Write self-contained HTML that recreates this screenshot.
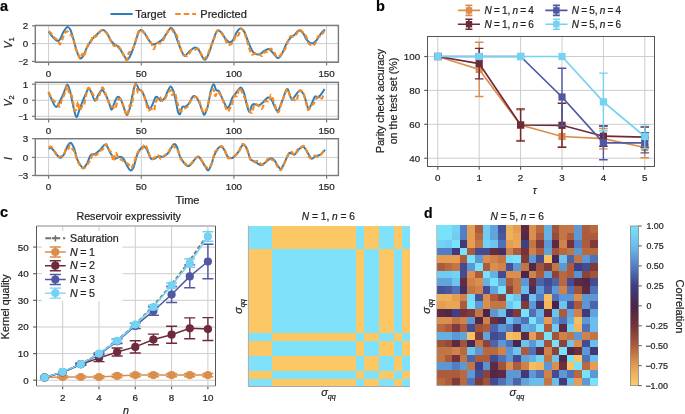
<!DOCTYPE html>
<html><head><meta charset="utf-8"><style>
html,body{margin:0;padding:0;background:#fff;}
body{width:685px;height:414px;overflow:hidden;}
svg text{stroke:#231f20;stroke-width:0.22px;}
svg{display:block;will-change:transform;font-family:"Liberation Sans", sans-serif;}
</style></head><body>
<svg width="685" height="414" viewBox="0 0 685 414">
<rect width="685" height="414" fill="#fff"/>
<text x="0" y="11" font-size="14.5" font-weight="bold" fill="#000">a</text>
<line x1="110.5" y1="14" x2="132.7" y2="14" stroke="#2f7ebc" stroke-width="2"/>
<text x="135.3" y="17.6" font-size="11" text-anchor="start" font-weight="normal" font-style="normal" fill="#231f20" >Target</text>
<line x1="175.2" y1="14" x2="196" y2="14" stroke="#f58a1f" stroke-width="2.2" stroke-dasharray="5.5,3"/>
<text x="200.3" y="17.6" font-size="11" text-anchor="start" font-weight="normal" font-style="normal" fill="#231f20" >Predicted</text>
<line x1="48.6" y1="25.4" x2="48.6" y2="62.3" stroke="#cdcdcd" stroke-width="1"/>
<line x1="141.3" y1="25.4" x2="141.3" y2="62.3" stroke="#cdcdcd" stroke-width="1"/>
<line x1="233.9" y1="25.4" x2="233.9" y2="62.3" stroke="#cdcdcd" stroke-width="1"/>
<line x1="326.6" y1="25.4" x2="326.6" y2="62.3" stroke="#cdcdcd" stroke-width="1"/>
<line x1="35.3" y1="25.8" x2="338.4" y2="25.8" stroke="#cdcdcd" stroke-width="1"/>
<line x1="35.3" y1="43.6" x2="338.4" y2="43.6" stroke="#cdcdcd" stroke-width="1"/>
<line x1="35.3" y1="61.4" x2="338.4" y2="61.4" stroke="#cdcdcd" stroke-width="1"/>
<line x1="48.6" y1="82.3" x2="48.6" y2="119.2" stroke="#cdcdcd" stroke-width="1"/>
<line x1="141.3" y1="82.3" x2="141.3" y2="119.2" stroke="#cdcdcd" stroke-width="1"/>
<line x1="233.9" y1="82.3" x2="233.9" y2="119.2" stroke="#cdcdcd" stroke-width="1"/>
<line x1="326.6" y1="82.3" x2="326.6" y2="119.2" stroke="#cdcdcd" stroke-width="1"/>
<line x1="35.3" y1="84.2" x2="338.4" y2="84.2" stroke="#cdcdcd" stroke-width="1"/>
<line x1="35.3" y1="100.3" x2="338.4" y2="100.3" stroke="#cdcdcd" stroke-width="1"/>
<line x1="35.3" y1="116.3" x2="338.4" y2="116.3" stroke="#cdcdcd" stroke-width="1"/>
<line x1="48.6" y1="138.7" x2="48.6" y2="175.5" stroke="#cdcdcd" stroke-width="1"/>
<line x1="141.3" y1="138.7" x2="141.3" y2="175.5" stroke="#cdcdcd" stroke-width="1"/>
<line x1="233.9" y1="138.7" x2="233.9" y2="175.5" stroke="#cdcdcd" stroke-width="1"/>
<line x1="326.6" y1="138.7" x2="326.6" y2="175.5" stroke="#cdcdcd" stroke-width="1"/>
<line x1="35.3" y1="138.7" x2="338.4" y2="138.7" stroke="#cdcdcd" stroke-width="1"/>
<line x1="35.3" y1="157.4" x2="338.4" y2="157.4" stroke="#cdcdcd" stroke-width="1"/>
<line x1="35.3" y1="175.5" x2="338.4" y2="175.5" stroke="#cdcdcd" stroke-width="1"/>
<line x1="32" y1="25.8" x2="35.3" y2="25.8" stroke="#7a7a7a" stroke-width="1.2"/>
<text x="28.3" y="29.2" font-size="9.8" text-anchor="end" font-weight="normal" font-style="normal" fill="#231f20" >2</text>
<line x1="32" y1="43.6" x2="35.3" y2="43.6" stroke="#7a7a7a" stroke-width="1.2"/>
<text x="28.3" y="47.0" font-size="9.8" text-anchor="end" font-weight="normal" font-style="normal" fill="#231f20" >0</text>
<line x1="32" y1="61.4" x2="35.3" y2="61.4" stroke="#7a7a7a" stroke-width="1.2"/>
<text x="28.3" y="64.8" font-size="9.8" text-anchor="end" fill="#231f20"><tspan font-size="7.6" dy="-0.7">−</tspan><tspan dy="0.7">2</tspan></text>
<line x1="48.6" y1="62.3" x2="48.6" y2="65.6" stroke="#7a7a7a" stroke-width="1.2"/>
<text x="48.6" y="76.6" font-size="9.8" text-anchor="middle" font-weight="normal" font-style="normal" fill="#231f20" >0</text>
<line x1="141.3" y1="62.3" x2="141.3" y2="65.6" stroke="#7a7a7a" stroke-width="1.2"/>
<text x="141.3" y="76.6" font-size="9.8" text-anchor="middle" font-weight="normal" font-style="normal" fill="#231f20" >50</text>
<line x1="233.9" y1="62.3" x2="233.9" y2="65.6" stroke="#7a7a7a" stroke-width="1.2"/>
<text x="233.9" y="76.6" font-size="9.8" text-anchor="middle" font-weight="normal" font-style="normal" fill="#231f20" >100</text>
<line x1="326.6" y1="62.3" x2="326.6" y2="65.6" stroke="#7a7a7a" stroke-width="1.2"/>
<text x="326.6" y="76.6" font-size="9.8" text-anchor="middle" font-weight="normal" font-style="normal" fill="#231f20" >150</text>
<line x1="32" y1="84.2" x2="35.3" y2="84.2" stroke="#7a7a7a" stroke-width="1.2"/>
<text x="28.3" y="87.6" font-size="9.8" text-anchor="end" font-weight="normal" font-style="normal" fill="#231f20" >1</text>
<line x1="32" y1="100.3" x2="35.3" y2="100.3" stroke="#7a7a7a" stroke-width="1.2"/>
<text x="28.3" y="103.7" font-size="9.8" text-anchor="end" font-weight="normal" font-style="normal" fill="#231f20" >0</text>
<line x1="32" y1="116.3" x2="35.3" y2="116.3" stroke="#7a7a7a" stroke-width="1.2"/>
<text x="28.3" y="119.7" font-size="9.8" text-anchor="end" fill="#231f20"><tspan font-size="7.6" dy="-0.7">−</tspan><tspan dy="0.7">1</tspan></text>
<line x1="48.6" y1="119.2" x2="48.6" y2="122.5" stroke="#7a7a7a" stroke-width="1.2"/>
<text x="48.6" y="133.5" font-size="9.8" text-anchor="middle" font-weight="normal" font-style="normal" fill="#231f20" >0</text>
<line x1="141.3" y1="119.2" x2="141.3" y2="122.5" stroke="#7a7a7a" stroke-width="1.2"/>
<text x="141.3" y="133.5" font-size="9.8" text-anchor="middle" font-weight="normal" font-style="normal" fill="#231f20" >50</text>
<line x1="233.9" y1="119.2" x2="233.9" y2="122.5" stroke="#7a7a7a" stroke-width="1.2"/>
<text x="233.9" y="133.5" font-size="9.8" text-anchor="middle" font-weight="normal" font-style="normal" fill="#231f20" >100</text>
<line x1="326.6" y1="119.2" x2="326.6" y2="122.5" stroke="#7a7a7a" stroke-width="1.2"/>
<text x="326.6" y="133.5" font-size="9.8" text-anchor="middle" font-weight="normal" font-style="normal" fill="#231f20" >150</text>
<line x1="32" y1="138.7" x2="35.3" y2="138.7" stroke="#7a7a7a" stroke-width="1.2"/>
<text x="28.3" y="142.1" font-size="9.8" text-anchor="end" font-weight="normal" font-style="normal" fill="#231f20" >3</text>
<line x1="32" y1="157.4" x2="35.3" y2="157.4" stroke="#7a7a7a" stroke-width="1.2"/>
<text x="28.3" y="160.8" font-size="9.8" text-anchor="end" font-weight="normal" font-style="normal" fill="#231f20" >0</text>
<line x1="32" y1="175.5" x2="35.3" y2="175.5" stroke="#7a7a7a" stroke-width="1.2"/>
<text x="28.3" y="178.9" font-size="9.8" text-anchor="end" fill="#231f20"><tspan font-size="7.6" dy="-0.7">−</tspan><tspan dy="0.7">3</tspan></text>
<line x1="48.6" y1="175.5" x2="48.6" y2="178.8" stroke="#7a7a7a" stroke-width="1.2"/>
<text x="48.6" y="189.8" font-size="9.8" text-anchor="middle" font-weight="normal" font-style="normal" fill="#231f20" >0</text>
<line x1="141.3" y1="175.5" x2="141.3" y2="178.8" stroke="#7a7a7a" stroke-width="1.2"/>
<text x="141.3" y="189.8" font-size="9.8" text-anchor="middle" font-weight="normal" font-style="normal" fill="#231f20" >50</text>
<line x1="233.9" y1="175.5" x2="233.9" y2="178.8" stroke="#7a7a7a" stroke-width="1.2"/>
<text x="233.9" y="189.8" font-size="9.8" text-anchor="middle" font-weight="normal" font-style="normal" fill="#231f20" >100</text>
<line x1="326.6" y1="175.5" x2="326.6" y2="178.8" stroke="#7a7a7a" stroke-width="1.2"/>
<text x="326.6" y="189.8" font-size="9.8" text-anchor="middle" font-weight="normal" font-style="normal" fill="#231f20" >150</text>
<path d="M48.7,31.6 C49.5,32.6 52.1,36.4 53.5,37.9 C54.9,39.4 56.1,40.6 57.2,40.9 C58.3,41.2 58.9,40.9 59.9,39.5 C60.9,38.1 61.9,34.7 63.1,32.6 C64.3,30.5 66.1,27.5 67.3,27.1 C68.5,26.7 69.4,27.8 70.5,30.0 C71.6,32.2 72.6,36.5 73.7,40.1 C74.8,43.7 75.8,48.7 76.9,51.7 C78.0,54.7 79.0,57.4 80.1,58.1 C81.1,58.8 82.2,57.6 83.2,56.0 C84.2,54.4 85.2,51.1 86.4,48.6 C87.7,46.1 89.1,43.3 90.7,41.1 C92.3,38.9 94.0,37.1 96.0,35.3 C98.0,33.4 100.6,30.4 102.4,30.0 C104.2,29.6 105.2,30.8 106.6,32.6 C108.0,34.4 109.6,38.7 110.9,40.6 C112.2,42.5 113.5,43.4 114.6,44.3 C115.6,45.2 116.2,45.0 117.2,45.9 C118.2,46.8 119.3,48.1 120.4,49.6 C121.5,51.1 122.4,53.2 123.6,54.9 C124.8,56.6 126.0,59.9 127.3,59.7 C128.6,59.5 129.8,56.8 131.1,53.9 C132.4,51.0 134.1,45.8 135.3,42.2 C136.5,38.7 137.6,34.6 138.5,32.6 C139.4,30.6 139.7,30.1 140.6,30.0 C141.5,29.9 142.7,30.8 143.8,32.1 C145.0,33.4 146.3,36.0 147.5,37.9 C148.7,39.8 150.0,42.1 151.2,43.2 C152.3,44.3 153.2,44.5 154.4,44.3 C155.7,44.1 157.3,43.1 158.7,42.2 C160.1,41.3 161.5,40.6 162.9,39.0 C164.3,37.4 165.9,34.5 167.2,32.6 C168.5,30.7 169.8,28.0 170.9,27.8 C172.1,27.6 173.0,29.6 174.1,31.6 C175.2,33.6 176.2,37.1 177.3,40.1 C178.5,43.1 179.8,47.0 181.0,49.6 C182.2,52.2 183.3,55.7 184.7,56.0 C186.1,56.3 187.8,52.6 189.5,51.2 C191.2,49.8 193.3,47.8 194.8,47.5 C196.3,47.2 196.9,47.6 198.5,49.6 C200.1,51.6 202.7,59.0 204.4,59.7 C206.1,60.4 207.2,57.0 208.6,53.9 C210.0,50.8 211.5,44.9 212.9,41.1 C214.3,37.3 215.7,32.4 217.1,31.0 C218.5,29.6 220.0,31.3 221.4,32.6 C222.8,33.9 224.3,37.4 225.6,39.0 C226.9,40.6 228.1,42.0 229.3,42.2 C230.5,42.4 231.8,41.8 233.0,40.1 C234.2,38.4 235.6,34.0 236.8,32.1 C238.1,30.2 239.2,28.5 240.5,28.6 C241.8,28.7 243.4,30.2 244.7,32.6 C246.0,35.0 247.2,39.7 248.5,42.7 C249.8,45.7 251.0,48.8 252.2,50.7 C253.3,52.6 254.2,53.3 255.4,53.9 C256.6,54.5 258.2,54.8 259.6,54.4 C261.0,54.0 262.4,52.1 263.9,51.2 C265.4,50.3 267.2,48.8 268.7,49.1 C270.2,49.4 271.4,51.3 272.9,52.8 C274.4,54.3 276.2,57.9 277.7,58.1 C279.2,58.3 280.5,56.2 281.9,53.9 C283.3,51.6 284.8,47.0 286.2,44.3 C287.6,41.6 289.0,39.5 290.4,37.9 C291.8,36.3 293.3,35.9 294.7,34.7 C296.1,33.5 297.3,30.9 298.7,30.6 C300.1,30.4 301.6,31.6 303.0,33.2 C304.4,34.8 305.6,38.7 307.2,40.4 C308.8,42.1 310.8,43.4 312.3,43.4 C313.8,43.4 315.0,42.0 316.4,40.4 C317.8,38.8 319.5,35.5 320.9,33.7 C322.3,31.9 324.2,30.1 324.9,29.4" fill="none" stroke="#2f7ebc" stroke-width="2" stroke-linejoin="round"/>
<path d="M48.7,31.0 C49.2,31.4 50.4,32.6 51.4,33.7 C52.4,34.9 53.5,36.8 54.6,37.9 C55.7,39.0 56.8,39.0 57.7,40.1 C58.6,41.2 59.2,44.3 59.9,44.3 C60.6,44.3 61.3,41.7 62.0,40.1 C62.7,38.5 63.4,36.1 64.1,34.7 C64.8,33.3 65.6,32.1 66.2,31.6 C66.8,31.1 67.3,31.2 67.8,31.6 C68.3,32.0 68.8,33.6 69.4,34.2 C70.0,34.8 70.9,34.2 71.6,35.3 C72.3,36.4 73.0,38.4 73.7,40.6 C74.4,42.8 75.0,46.2 75.8,48.6 C76.6,51.0 77.8,53.2 78.5,54.9 C79.2,56.6 79.5,58.8 80.1,58.6 C80.7,58.4 81.6,54.2 82.2,53.9 C82.8,53.5 83.2,57.0 83.8,56.5 C84.4,56.0 85.2,52.7 85.9,50.7 C86.6,48.8 87.2,46.1 88.0,44.8 C88.8,43.5 89.9,44.2 90.7,42.7 C91.5,41.2 92.1,36.8 92.8,35.8 C93.5,34.8 94.1,37.1 94.9,36.9 C95.7,36.7 96.5,35.8 97.6,34.7 C98.7,33.6 100.1,31.0 101.3,30.5 C102.5,30.0 103.9,30.9 105.0,31.6 C106.1,32.3 106.7,33.1 107.7,34.7 C108.7,36.3 109.9,39.2 110.9,41.1 C112.0,43.0 113.0,45.3 114.0,45.9 C115.0,46.5 116.0,44.0 117.2,44.8 C118.5,45.6 120.0,48.1 121.5,50.7 C123.0,53.3 125.1,59.9 126.3,60.2 C127.5,60.6 128.2,54.2 128.9,52.8 C129.6,51.4 129.6,52.9 130.5,51.7 C131.4,50.5 132.9,48.6 134.2,45.4 C135.4,42.2 137.0,35.2 138.0,32.6 C139.0,30.0 139.1,30.0 140.1,30.0 C141.1,30.0 142.5,31.1 143.8,32.6 C145.1,34.1 146.8,37.0 148.1,39.0 C149.4,41.0 150.8,42.6 151.8,44.3 C152.8,46.0 153.1,49.3 153.9,49.1 C154.7,48.9 155.4,44.2 156.6,43.2 C157.8,42.2 159.4,44.2 160.8,43.2 C162.2,42.2 163.8,38.9 165.0,36.9 C166.2,34.9 167.2,32.4 168.2,31.0 C169.2,29.6 169.9,28.0 170.9,28.4 C171.9,28.8 173.1,32.1 174.1,33.2 C175.1,34.4 175.7,33.1 176.7,35.3 C177.7,37.5 178.9,43.3 179.9,46.4 C180.9,49.5 181.9,52.5 182.6,53.9 C183.3,55.3 183.4,54.5 184.2,54.9 C185.0,55.2 186.2,56.7 187.4,56.0 C188.6,55.3 189.9,51.7 191.1,50.7 C192.2,49.7 193.2,50.5 194.3,50.1 C195.5,49.8 197.0,48.3 198.0,48.6 C199.0,48.9 199.1,50.0 200.1,51.7 C201.1,53.4 202.6,58.1 203.8,58.6 C205.1,59.1 206.4,56.9 207.6,54.9 C208.8,52.9 209.6,49.0 210.7,46.4 C211.8,43.8 212.8,41.6 213.9,39.0 C215.1,36.4 216.4,31.6 217.6,30.5 C218.8,29.4 219.6,30.9 220.8,32.1 C222.0,33.3 223.4,35.9 224.6,37.9 C225.8,39.9 226.6,43.2 227.7,44.3 C228.8,45.4 229.9,44.8 230.9,44.3 C231.9,43.8 232.7,42.7 233.6,41.1 C234.5,39.5 235.4,35.7 236.2,34.7 C237.0,33.7 237.6,36.3 238.4,35.3 C239.2,34.3 239.9,28.9 241.0,28.6 C242.1,28.3 243.2,30.0 244.7,33.7 C246.2,37.4 248.8,47.2 250.0,50.7 C251.2,54.2 251.0,53.9 251.7,54.4 C252.4,54.9 253.2,54.2 254.3,53.9 C255.4,53.6 256.8,52.4 258.0,52.8 C259.2,53.1 260.6,56.2 261.7,56.0 C262.8,55.8 263.8,52.3 264.9,51.7 C266.0,51.1 267.1,52.8 268.1,52.3 C269.1,51.8 269.7,48.5 270.8,48.6 C271.9,48.7 273.5,51.5 274.5,52.8 C275.5,54.1 275.7,56.0 276.6,56.5 C277.5,57.0 278.7,56.8 279.8,56.0 C280.9,55.2 282.0,53.0 283.0,51.7 C284.0,50.4 284.7,49.9 285.6,48.0 C286.5,46.1 287.5,42.1 288.3,40.1 C289.1,38.1 289.5,36.9 290.4,36.3 C291.3,35.7 292.5,36.7 293.6,36.3 C294.7,35.9 295.9,34.9 296.8,33.7 C297.7,32.6 297.9,29.7 298.9,29.4 C299.9,29.1 301.4,30.9 302.6,32.1 C303.9,33.4 305.4,35.0 306.4,36.9 C307.4,38.8 307.4,41.8 308.5,43.2 C309.6,44.6 311.6,45.4 312.7,45.4 C313.8,45.4 314.5,44.7 315.4,43.2 C316.3,41.7 317.3,37.6 318.2,36.4 C319.1,35.2 319.8,36.8 320.9,35.8 C322.0,34.8 324.0,31.4 324.6,30.5" fill="none" stroke="#f58a1f" stroke-width="2.2" stroke-linejoin="round" stroke-dasharray="5,2.4"/>
<path d="M48.5,92.2 C49.1,93.5 50.7,97.5 52.0,100.0 C53.3,102.5 54.7,107.1 56.2,106.9 C57.7,106.7 59.6,101.7 61.0,99.0 C62.4,96.3 63.5,93.4 64.5,91.0 C65.5,88.6 66.4,84.6 67.3,84.6 C68.2,84.6 69.0,87.6 70.0,91.0 C71.0,94.4 71.9,100.7 73.0,105.0 C74.1,109.3 75.2,116.5 76.4,117.0 C77.6,117.5 78.7,111.2 80.0,108.0 C81.3,104.8 82.6,101.2 84.0,98.0 C85.4,94.8 87.3,89.4 88.6,88.6 C89.8,87.8 90.4,91.0 91.5,93.0 C92.6,95.0 94.0,100.4 95.1,100.7 C96.2,101.0 97.1,96.7 98.3,94.9 C99.5,93.1 100.8,90.1 102.0,90.1 C103.2,90.1 104.5,92.9 105.7,94.9 C106.9,96.9 107.9,99.8 108.9,102.3 C109.9,104.8 110.7,109.5 111.6,109.7 C112.5,109.9 113.2,105.5 114.2,103.4 C115.2,101.3 116.3,97.7 117.4,97.0 C118.5,96.3 119.5,97.3 120.6,99.1 C121.7,100.9 122.7,104.9 123.8,107.6 C124.9,110.3 125.9,115.3 127.0,115.1 C128.1,114.9 129.0,111.0 130.2,106.6 C131.3,102.2 132.9,92.3 133.9,88.5 C134.9,84.7 135.1,83.8 136.0,84.0 C136.9,84.2 138.2,88.4 139.2,89.6 C140.2,90.8 140.9,89.8 141.9,91.2 C142.9,92.6 143.8,95.2 145.0,98.1 C146.2,101.0 148.1,107.7 149.3,108.7 C150.6,109.8 151.4,106.4 152.5,104.4 C153.6,102.5 154.6,98.0 155.7,97.0 C156.8,96.0 158.0,98.0 158.9,98.6 C159.8,99.2 160.0,100.8 161.0,100.7 C162.0,100.6 163.6,99.6 164.7,98.1 C165.8,96.6 166.4,93.7 167.4,91.7 C168.4,89.8 169.6,86.6 170.6,86.4 C171.6,86.2 172.3,88.1 173.2,90.6 C174.1,93.1 175.1,97.7 175.9,101.2 C176.7,104.8 177.3,109.8 178.0,111.9 C178.7,114.0 179.4,114.8 180.1,114.0 C180.8,113.2 181.3,108.3 182.2,107.1 C183.1,105.9 184.3,107.1 185.4,106.6 C186.5,106.1 187.3,105.6 188.6,103.9 C189.8,102.2 191.7,97.7 192.9,96.5 C194.1,95.3 194.9,96.0 196.0,97.0 C197.1,98.0 198.1,99.9 199.2,102.3 C200.3,104.7 201.5,109.3 202.4,111.3 C203.3,113.3 203.7,115.3 204.6,114.5 C205.5,113.7 206.6,110.6 207.7,106.6 C208.8,102.6 209.9,94.3 210.9,90.6 C211.9,86.9 212.7,84.3 213.6,84.2 C214.5,84.1 215.3,88.9 216.2,90.1 C217.1,91.3 217.8,89.7 218.9,91.2 C220.0,92.7 221.3,96.4 222.6,99.1 C223.9,101.8 225.8,106.5 226.9,107.6 C228.1,108.7 228.6,107.2 229.5,105.6 C230.4,104.0 231.2,100.1 232.2,98.1 C233.2,96.1 234.0,95.6 235.4,93.8 C236.8,92.0 239.3,87.6 240.7,87.4 C242.1,87.2 242.9,90.0 243.9,92.7 C244.9,95.4 245.6,100.2 246.5,103.4 C247.4,106.6 248.3,111.6 249.2,111.9 C250.1,112.2 251.0,106.8 251.8,105.5 C252.6,104.2 252.8,103.9 254.0,103.9 C255.2,103.9 257.2,105.8 258.7,105.5 C260.2,105.2 261.5,103.6 263.0,102.3 C264.5,101.0 266.4,97.9 267.8,97.5 C269.2,97.1 270.4,98.2 271.5,99.7 C272.6,101.2 273.6,104.8 274.7,106.6 C275.8,108.4 276.7,111.7 277.9,110.8 C279.1,109.9 280.6,104.8 282.1,101.2 C283.6,97.6 285.6,89.9 286.9,89.0 C288.2,88.1 289.2,94.1 290.1,95.9 C291.0,97.7 291.5,99.5 292.2,99.7 C292.9,99.9 293.1,98.5 294.3,97.0 C295.5,95.5 298.1,91.1 299.6,90.6 C301.1,90.1 302.2,92.0 303.3,93.8 C304.4,95.6 305.1,98.8 306.0,101.3 C306.9,103.8 307.6,108.5 308.6,108.7 C309.7,108.9 311.2,104.3 312.3,102.3 C313.4,100.3 314.0,97.3 315.0,96.5 C316.0,95.7 317.1,98.0 318.2,97.6 C319.3,97.1 320.3,95.2 321.4,93.8 C322.5,92.4 324.1,89.8 324.6,89.0" fill="none" stroke="#2f7ebc" stroke-width="2" stroke-linejoin="round"/>
<path d="M48.5,92.2 C49.3,93.5 51.6,98.5 53.1,100.3 C54.6,102.1 56.6,101.7 57.7,102.8 C58.8,103.9 59.0,107.3 59.7,106.9 C60.4,106.5 60.9,102.6 61.7,100.3 C62.6,98.0 63.9,95.7 64.8,93.2 C65.7,90.8 66.5,85.4 67.3,85.6 C68.0,85.8 68.6,92.6 69.3,94.2 C70.0,95.8 70.9,93.7 71.6,95.2 C72.3,96.7 72.9,100.8 73.4,103.3 C73.9,105.8 73.9,108.9 74.4,109.9 C74.9,110.9 75.8,110.8 76.4,109.4 C77.0,108.1 77.5,101.6 78.0,101.8 C78.5,102.0 78.8,109.6 79.5,110.4 C80.2,111.2 81.2,107.2 82.0,106.4 C82.8,105.6 83.4,106.9 84.0,105.4 C84.6,103.9 84.9,100.1 85.6,97.2 C86.3,94.3 87.2,89.1 88.1,88.1 C89.0,87.1 90.3,90.2 91.1,91.2 C91.9,92.2 92.2,92.8 93.0,94.3 C93.8,95.8 95.1,100.1 96.2,100.2 C97.3,100.3 98.3,97.0 99.4,94.9 C100.5,92.8 101.4,87.2 102.6,87.4 C103.8,87.6 105.1,92.9 106.3,95.9 C107.5,98.9 108.9,103.7 110.0,105.5 C111.1,107.3 111.8,106.1 112.7,106.6 C113.6,107.1 114.5,109.6 115.3,108.7 C116.1,107.8 116.6,102.8 117.4,101.2 C118.2,99.6 119.0,98.2 120.1,99.1 C121.2,100.0 122.6,103.8 123.8,106.6 C125.0,109.3 126.0,115.8 127.0,115.6 C128.0,115.4 128.8,107.4 129.6,105.5 C130.4,103.6 131.0,107.4 131.8,104.4 C132.6,101.4 133.7,90.7 134.4,87.4 C135.1,84.1 135.4,83.9 136.0,84.8 C136.6,85.7 137.3,91.7 138.1,92.7 C138.9,93.7 139.8,90.1 140.8,90.6 C141.8,91.1 142.8,92.7 144.0,95.9 C145.2,99.1 147.0,107.6 148.2,109.7 C149.3,111.8 149.9,108.6 150.9,108.7 C151.9,108.8 153.3,111.4 154.1,110.3 C154.9,109.2 154.8,104.5 155.7,102.3 C156.6,100.1 158.3,97.3 159.4,97.0 C160.5,96.7 161.0,100.2 162.0,100.5 C163.0,100.8 164.3,99.7 165.2,98.6 C166.1,97.5 166.5,95.2 167.4,93.8 C168.3,92.4 169.8,89.9 170.6,90.1 C171.4,90.3 171.5,94.6 172.2,94.9 C172.9,95.2 174.0,91.2 174.8,92.2 C175.6,93.2 176.3,98.8 176.9,101.2 C177.5,103.6 177.9,104.9 178.5,106.6 C179.1,108.3 179.8,110.9 180.7,111.3 C181.6,111.7 182.7,109.5 183.8,108.7 C185.0,107.9 186.3,108.2 187.6,106.6 C188.9,105.0 190.4,100.7 191.8,99.1 C193.2,97.5 194.8,96.7 196.0,97.0 C197.2,97.3 198.2,98.6 199.2,100.7 C200.2,102.8 201.1,107.8 201.9,109.7 C202.7,111.7 203.1,112.8 204.0,112.4 C204.9,112.1 206.2,110.3 207.2,107.6 C208.2,104.8 208.9,99.0 209.9,95.9 C210.9,92.8 212.1,89.0 213.0,89.0 C213.9,89.0 214.4,95.5 215.2,95.9 C216.0,96.4 216.8,91.5 217.8,91.7 C218.9,91.9 220.3,94.7 221.5,97.0 C222.7,99.3 223.6,103.1 224.7,105.5 C225.8,107.9 227.1,110.8 227.9,111.3 C228.8,111.8 229.2,109.5 229.8,108.5 C230.4,107.5 230.9,107.1 231.7,105.0 C232.4,102.9 233.4,97.4 234.3,95.9 C235.2,94.4 236.1,97.2 237.0,95.9 C237.9,94.6 238.6,88.3 239.6,88.0 C240.6,87.7 241.7,91.6 242.8,93.8 C243.9,96.0 245.0,98.7 246.0,101.2 C247.0,103.7 247.7,106.8 248.7,108.7 C249.7,110.7 250.8,113.6 251.8,112.9 C252.8,112.2 253.4,105.6 254.5,104.4 C255.6,103.2 257.0,104.8 258.2,105.5 C259.4,106.2 260.8,109.4 261.9,108.7 C263.0,108.0 264.0,102.5 265.1,101.2 C266.2,100.0 267.8,102.2 268.8,101.2 C269.8,100.2 270.2,94.9 271.0,94.9 C271.8,94.9 272.5,98.3 273.6,101.2 C274.8,104.1 276.6,111.9 277.9,112.4 C279.1,112.9 280.1,107.2 281.1,104.4 C282.2,101.7 283.1,98.5 284.2,95.9 C285.2,93.3 286.3,88.7 287.4,89.0 C288.5,89.3 289.6,95.8 290.6,97.5 C291.6,99.2 292.2,98.6 293.2,99.1 C294.2,99.6 295.6,101.3 296.4,100.7 C297.2,100.1 297.4,97.1 298.0,95.4 C298.6,93.7 299.2,91.0 300.1,90.6 C301.0,90.2 302.3,90.8 303.3,92.8 C304.3,94.8 305.2,99.5 306.0,102.3 C306.8,105.1 307.2,109.3 308.1,109.8 C309.0,110.3 310.3,106.6 311.3,105.5 C312.3,104.4 313.0,104.6 313.9,103.4 C314.8,102.2 315.7,99.3 316.6,98.1 C317.5,96.9 318.4,95.9 319.3,96.0 C320.2,96.1 321.1,99.1 321.9,98.6 C322.7,98.1 323.6,93.8 324.0,92.8" fill="none" stroke="#f58a1f" stroke-width="2.2" stroke-linejoin="round" stroke-dasharray="5,2.4"/>
<path d="M48.7,148.7 C49.2,148.6 50.2,147.5 51.4,148.2 C52.5,148.9 54.2,151.4 55.6,153.0 C57.0,154.6 58.5,157.6 59.9,157.8 C61.3,158.0 62.8,156.1 64.1,154.1 C65.4,152.1 66.6,147.5 67.8,145.6 C69.0,143.7 69.9,142.4 71.0,142.9 C72.1,143.4 73.2,146.1 74.2,148.7 C75.2,151.3 75.9,155.6 76.9,158.3 C77.9,161.0 79.0,163.1 80.1,164.7 C81.1,166.3 82.0,168.1 83.2,167.9 C84.4,167.7 85.8,165.7 87.0,163.6 C88.2,161.5 89.4,156.7 90.7,155.1 C92.0,153.5 93.3,155.0 94.9,154.1 C96.5,153.2 98.4,151.4 100.2,149.8 C102.0,148.2 103.9,144.2 105.5,144.5 C107.1,144.8 108.4,149.6 109.8,151.9 C111.2,154.2 112.9,157.2 114.0,158.3 C115.1,159.4 115.1,158.6 116.2,158.3 C117.3,158.0 119.2,156.6 120.4,156.7 C121.6,156.8 122.5,157.4 123.6,158.8 C124.7,160.2 125.6,163.2 126.8,165.2 C128.0,167.1 129.3,170.2 130.5,170.5 C131.7,170.8 132.6,169.3 133.7,166.8 C134.8,164.3 135.8,158.6 136.9,155.7 C138.0,152.8 138.9,150.8 140.1,149.3 C141.2,147.8 142.7,146.5 143.8,146.6 C145.0,146.7 145.8,147.9 147.0,149.8 C148.2,151.8 149.5,156.8 150.7,158.3 C151.9,159.8 153.1,159.2 154.4,158.8 C155.7,158.5 157.3,156.5 158.7,156.2 C160.1,155.8 161.3,157.2 162.9,156.7 C164.5,156.2 166.4,155.0 168.2,153.0 C170.0,151.0 172.1,145.6 173.5,144.5 C174.9,143.4 175.6,144.7 176.7,146.6 C177.8,148.5 178.7,153.4 179.9,156.2 C181.2,158.9 182.9,161.4 184.2,163.1 C185.5,164.8 186.7,166.2 187.9,166.3 C189.1,166.4 190.4,164.8 191.6,163.6 C192.8,162.4 193.7,160.6 194.8,159.4 C196.0,158.2 197.3,156.3 198.5,156.7 C199.7,157.0 201.0,159.8 202.2,161.5 C203.3,163.2 204.4,165.3 205.4,166.8 C206.4,168.3 207.1,170.8 208.1,170.5 C209.1,170.2 210.3,167.1 211.3,164.7 C212.3,162.3 212.9,158.7 213.9,156.2 C214.9,153.7 215.9,151.4 217.1,149.8 C218.2,148.2 219.6,146.5 220.8,146.6 C222.1,146.7 223.4,148.6 224.6,150.3 C225.8,152.0 226.6,155.4 227.7,156.7 C228.8,158.0 229.8,158.3 230.9,158.3 C232.0,158.3 232.8,157.8 234.1,156.7 C235.3,155.6 236.9,153.9 238.4,151.9 C239.9,149.9 241.7,145.0 243.1,144.5 C244.5,144.0 245.8,146.4 246.9,148.7 C248.1,151.0 249.1,156.4 250.0,158.3 C250.9,160.2 251.1,159.7 252.2,160.4 C253.3,161.1 254.9,161.8 256.4,162.6 C257.9,163.4 259.6,165.3 261.2,165.2 C262.8,165.1 264.4,163.2 266.0,162.0 C267.6,160.8 269.4,158.6 270.8,158.3 C272.2,158.0 273.4,159.2 274.5,160.4 C275.6,161.6 276.6,164.3 277.7,165.7 C278.8,167.1 279.8,169.4 280.9,168.9 C282.0,168.4 283.3,165.2 284.6,162.6 C285.9,160.0 287.7,155.0 288.8,153.5 C289.9,152.0 290.5,153.4 291.5,153.5 C292.5,153.6 293.8,155.0 295.0,154.3 C296.2,153.6 297.6,150.6 299.0,149.3 C300.4,148.0 301.9,146.1 303.3,146.6 C304.7,147.1 306.0,150.2 307.4,152.2 C308.8,154.2 310.2,157.9 311.5,158.6 C312.8,159.3 313.8,157.1 315.3,156.4 C316.8,155.7 318.7,155.7 320.3,154.6 C321.9,153.5 324.3,150.6 325.1,149.8" fill="none" stroke="#2f7ebc" stroke-width="2" stroke-linejoin="round"/>
<path d="M48.7,147.2 C49.1,147.1 50.0,146.2 50.8,146.6 C51.6,147.0 52.4,148.1 53.5,149.8 C54.6,151.5 56.5,155.6 57.7,156.7 C58.9,157.8 59.8,156.5 60.9,156.2 C62.0,155.8 63.3,155.8 64.1,154.6 C64.9,153.4 65.1,150.1 65.7,149.3 C66.3,148.5 67.1,150.4 67.8,149.8 C68.5,149.2 69.3,145.8 70.0,145.6 C70.7,145.4 71.3,147.6 72.1,148.7 C72.9,149.8 73.9,150.1 74.7,151.9 C75.5,153.7 76.0,157.1 76.9,159.4 C77.8,161.7 79.1,164.2 80.1,165.7 C81.1,167.2 81.8,168.1 82.7,168.4 C83.6,168.7 84.4,168.3 85.4,167.3 C86.4,166.3 87.7,163.9 88.6,162.6 C89.5,161.3 90.0,160.9 90.7,159.4 C91.4,157.9 91.9,154.2 92.8,153.5 C93.7,152.8 94.8,155.5 96.0,155.1 C97.2,154.7 99.0,152.0 100.2,150.9 C101.4,149.8 102.4,149.8 103.4,148.7 C104.4,147.5 105.1,143.7 106.1,144.0 C107.1,144.3 108.4,148.8 109.3,150.3 C110.2,151.8 110.7,151.2 111.4,153.0 C112.1,154.8 112.8,161.0 113.5,161.0 C114.2,161.0 114.8,153.4 115.7,153.0 C116.6,152.6 117.7,157.1 118.8,158.3 C119.9,159.5 121.4,159.7 122.6,160.4 C123.8,161.1 124.7,161.9 125.7,162.6 C126.8,163.3 128.0,163.8 128.9,164.7 C129.8,165.6 130.3,168.1 131.1,167.9 C131.9,167.7 132.7,165.9 133.7,163.6 C134.7,161.3 135.9,156.4 136.9,154.1 C137.9,151.8 138.7,150.7 139.6,149.8 C140.5,148.9 141.3,149.6 142.2,148.7 C143.1,147.8 143.9,144.1 144.9,144.5 C145.9,144.9 147.1,148.5 148.1,150.9 C149.1,153.3 150.1,157.7 151.2,158.8 C152.2,160.0 153.3,158.4 154.4,157.8 C155.5,157.2 156.5,154.9 157.6,155.1 C158.7,155.3 159.7,158.7 160.8,158.8 C161.9,158.9 162.8,156.8 164.0,155.7 C165.2,154.6 166.9,154.2 168.2,152.5 C169.5,150.8 170.8,146.3 172.0,145.6 C173.2,144.9 174.6,147.2 175.7,148.2 C176.8,149.2 177.4,149.5 178.3,151.4 C179.2,153.3 179.8,157.4 181.0,159.4 C182.2,161.4 184.0,162.6 185.2,163.6 C186.4,164.6 187.3,165.8 188.4,165.7 C189.5,165.6 190.3,164.4 191.6,163.1 C192.8,161.8 194.8,158.9 195.9,157.8 C197.1,156.7 197.5,156.3 198.5,156.7 C199.5,157.1 200.6,158.9 201.7,160.4 C202.8,161.9 203.8,164.4 204.9,165.7 C206.0,166.9 207.0,168.1 208.1,167.9 C209.2,167.7 210.2,167.4 211.3,164.7 C212.5,162.0 213.9,154.4 215.0,151.9 C216.1,149.4 216.5,150.8 217.6,149.8 C218.7,148.8 220.2,146.1 221.4,146.1 C222.6,146.1 223.6,147.9 224.6,149.8 C225.6,151.8 226.6,156.5 227.7,157.8 C228.8,159.1 229.8,158.1 230.9,157.8 C232.0,157.5 232.8,157.1 234.1,156.2 C235.3,155.3 237.0,154.5 238.4,152.5 C239.8,150.5 241.2,144.4 242.6,144.0 C244.0,143.6 245.6,147.2 246.9,149.8 C248.2,152.5 249.3,158.0 250.6,159.9 C251.9,161.8 253.6,161.3 254.8,161.5 C256.0,161.7 256.9,160.5 258.0,161.0 C259.1,161.5 260.6,164.3 261.7,164.7 C262.8,165.0 263.7,164.2 264.9,163.1 C266.1,161.9 267.6,158.4 268.7,157.8 C269.8,157.2 270.3,158.9 271.3,159.4 C272.3,159.9 273.4,159.8 274.5,161.0 C275.6,162.2 276.6,165.3 277.7,166.8 C278.8,168.3 279.8,170.5 280.9,170.0 C282.0,169.5 283.0,166.0 284.1,163.6 C285.2,161.2 286.6,157.6 287.8,155.7 C289.0,153.8 290.4,152.0 291.5,151.9 C292.6,151.8 293.5,155.4 294.5,155.1 C295.5,154.8 296.5,151.0 297.4,149.8 C298.3,148.7 298.9,148.8 300.0,148.2 C301.1,147.6 302.6,145.4 303.8,146.0 C305.0,146.6 305.9,149.9 307.0,152.0 C308.1,154.1 308.9,157.7 310.2,158.3 C311.4,158.9 313.2,156.0 314.5,155.7 C315.8,155.4 317.1,157.0 318.2,156.7 C319.3,156.4 320.4,155.2 321.4,154.1 C322.4,152.9 323.6,150.5 324.0,149.8" fill="none" stroke="#f58a1f" stroke-width="2.2" stroke-linejoin="round" stroke-dasharray="5,2.4"/>
<rect x="35.3" y="25.4" width="303.1" height="36.9" fill="none" stroke="#7a7a7a" stroke-width="1.4"/>
<rect x="35.3" y="82.3" width="303.1" height="36.9" fill="none" stroke="#7a7a7a" stroke-width="1.4"/>
<rect x="35.3" y="138.7" width="303.1" height="36.8" fill="none" stroke="#7a7a7a" stroke-width="1.4"/>
<g font-style="italic" fill="#231f20">
<text transform="translate(11.8 48.5) rotate(-90)" font-size="10.5">V<tspan font-size="7.5" dy="2.5" font-style="normal">1</tspan></text>
<text transform="translate(11.8 106.5) rotate(-90)" font-size="10.5">V<tspan font-size="7.5" dy="2.5" font-style="normal">2</tspan></text>
<text transform="translate(11.8 160) rotate(-90)" font-size="10.5">I</text>
</g>
<text x="187.4" y="203.8" font-size="11" text-anchor="middle" font-weight="normal" font-style="normal" fill="#231f20" >Time</text>
<text x="376" y="11" font-size="14.5" font-weight="bold" fill="#000">b</text>
<line x1="437.8" y1="36.5" x2="437.8" y2="166.5" stroke="#cdcdcd" stroke-width="1"/>
<line x1="479.2" y1="36.5" x2="479.2" y2="166.5" stroke="#cdcdcd" stroke-width="1"/>
<line x1="520.6" y1="36.5" x2="520.6" y2="166.5" stroke="#cdcdcd" stroke-width="1"/>
<line x1="562.0" y1="36.5" x2="562.0" y2="166.5" stroke="#cdcdcd" stroke-width="1"/>
<line x1="603.4" y1="36.5" x2="603.4" y2="166.5" stroke="#cdcdcd" stroke-width="1"/>
<line x1="644.8" y1="36.5" x2="644.8" y2="166.5" stroke="#cdcdcd" stroke-width="1"/>
<line x1="427.5" y1="158.2" x2="654.5" y2="158.2" stroke="#cdcdcd" stroke-width="1"/>
<line x1="427.5" y1="124.3" x2="654.5" y2="124.3" stroke="#cdcdcd" stroke-width="1"/>
<line x1="427.5" y1="90.4" x2="654.5" y2="90.4" stroke="#cdcdcd" stroke-width="1"/>
<line x1="427.5" y1="56.5" x2="654.5" y2="56.5" stroke="#cdcdcd" stroke-width="1"/>
<line x1="437.8" y1="166.5" x2="437.8" y2="169.8" stroke="#555555" stroke-width="1.1"/>
<text x="437.8" y="180.7" font-size="9.8" text-anchor="middle" font-weight="normal" font-style="normal" fill="#231f20" >0</text>
<line x1="479.2" y1="166.5" x2="479.2" y2="169.8" stroke="#555555" stroke-width="1.1"/>
<text x="479.2" y="180.7" font-size="9.8" text-anchor="middle" font-weight="normal" font-style="normal" fill="#231f20" >1</text>
<line x1="520.6" y1="166.5" x2="520.6" y2="169.8" stroke="#555555" stroke-width="1.1"/>
<text x="520.6" y="180.7" font-size="9.8" text-anchor="middle" font-weight="normal" font-style="normal" fill="#231f20" >2</text>
<line x1="562.0" y1="166.5" x2="562.0" y2="169.8" stroke="#555555" stroke-width="1.1"/>
<text x="562.0" y="180.7" font-size="9.8" text-anchor="middle" font-weight="normal" font-style="normal" fill="#231f20" >3</text>
<line x1="603.4" y1="166.5" x2="603.4" y2="169.8" stroke="#555555" stroke-width="1.1"/>
<text x="603.4" y="180.7" font-size="9.8" text-anchor="middle" font-weight="normal" font-style="normal" fill="#231f20" >4</text>
<line x1="644.8" y1="166.5" x2="644.8" y2="169.8" stroke="#555555" stroke-width="1.1"/>
<text x="644.8" y="180.7" font-size="9.8" text-anchor="middle" font-weight="normal" font-style="normal" fill="#231f20" >5</text>
<line x1="424.2" y1="158.2" x2="427.5" y2="158.2" stroke="#555555" stroke-width="1.1"/>
<text x="420.1" y="161.6" font-size="9.8" text-anchor="end" font-weight="normal" font-style="normal" fill="#231f20" >40</text>
<line x1="424.2" y1="124.3" x2="427.5" y2="124.3" stroke="#555555" stroke-width="1.1"/>
<text x="420.1" y="127.7" font-size="9.8" text-anchor="end" font-weight="normal" font-style="normal" fill="#231f20" >60</text>
<line x1="424.2" y1="90.4" x2="427.5" y2="90.4" stroke="#555555" stroke-width="1.1"/>
<text x="420.1" y="93.8" font-size="9.8" text-anchor="end" font-weight="normal" font-style="normal" fill="#231f20" >80</text>
<line x1="424.2" y1="56.5" x2="427.5" y2="56.5" stroke="#555555" stroke-width="1.1"/>
<text x="420.1" y="59.9" font-size="9.8" text-anchor="end" font-weight="normal" font-style="normal" fill="#231f20" >100</text>
<text x="534.6" y="194.0" font-size="10.5" text-anchor="middle" font-weight="normal" font-style="italic" fill="#231f20" >τ</text>
<text transform="translate(384.3 101) rotate(-90)" font-size="10.7" text-anchor="middle" fill="#231f20">Parity check accuracy</text>
<text transform="translate(396.8 101) rotate(-90)" font-size="10.7" text-anchor="middle" fill="#231f20">on the test set (%)</text>
<polyline points="437.8,56.5 479.2,69.4 520.6,125.1 562.0,136.5 603.4,138.7 644.8,147.5" fill="none" stroke="#db8d4c" stroke-width="1.7"/>
<path d="M479.2,42.3V96.5M474.9,42.3h8.6M474.9,96.5h8.6" stroke="#db8d4c" stroke-width="1.4" fill="none"/>
<path d="M520.6,109.9V140.4M516.3,109.9h8.6M516.3,140.4h8.6" stroke="#db8d4c" stroke-width="1.4" fill="none"/>
<path d="M562.0,126.3V146.7M557.7,126.3h8.6M557.7,146.7h8.6" stroke="#db8d4c" stroke-width="1.4" fill="none"/>
<path d="M603.4,128.5V148.9M599.1,128.5h8.6M599.1,148.9h8.6" stroke="#db8d4c" stroke-width="1.4" fill="none"/>
<path d="M644.8,137.4V157.7M640.5,137.4h8.6M640.5,157.7h8.6" stroke="#db8d4c" stroke-width="1.4" fill="none"/>
<rect x="434.2" y="52.9" width="7.2" height="7.2" fill="#db8d4c"/>
<rect x="475.6" y="65.8" width="7.2" height="7.2" fill="#db8d4c"/>
<rect x="517.0" y="121.5" width="7.2" height="7.2" fill="#db8d4c"/>
<rect x="558.4" y="132.9" width="7.2" height="7.2" fill="#db8d4c"/>
<rect x="599.8" y="135.1" width="7.2" height="7.2" fill="#db8d4c"/>
<rect x="641.2" y="143.9" width="7.2" height="7.2" fill="#db8d4c"/>
<polyline points="437.8,56.5 479.2,63.6 520.6,125.0 562.0,125.3 603.4,136.2 644.8,137.2" fill="none" stroke="#6d2a3b" stroke-width="1.7"/>
<path d="M479.2,48.4V78.9M474.9,48.4h8.6M474.9,78.9h8.6" stroke="#6d2a3b" stroke-width="1.4" fill="none"/>
<path d="M520.6,108.9V141.1M516.3,108.9h8.6M516.3,141.1h8.6" stroke="#6d2a3b" stroke-width="1.4" fill="none"/>
<path d="M562.0,103.3V147.4M557.7,103.3h8.6M557.7,147.4h8.6" stroke="#6d2a3b" stroke-width="1.4" fill="none"/>
<path d="M603.4,126.0V146.3M599.1,126.0h8.6M599.1,146.3h8.6" stroke="#6d2a3b" stroke-width="1.4" fill="none"/>
<path d="M644.8,127.0V147.4M640.5,127.0h8.6M640.5,147.4h8.6" stroke="#6d2a3b" stroke-width="1.4" fill="none"/>
<rect x="434.2" y="52.9" width="7.2" height="7.2" fill="#6d2a3b"/>
<rect x="475.6" y="60.0" width="7.2" height="7.2" fill="#6d2a3b"/>
<rect x="517.0" y="121.4" width="7.2" height="7.2" fill="#6d2a3b"/>
<rect x="558.4" y="121.7" width="7.2" height="7.2" fill="#6d2a3b"/>
<rect x="599.8" y="132.6" width="7.2" height="7.2" fill="#6d2a3b"/>
<rect x="641.2" y="133.6" width="7.2" height="7.2" fill="#6d2a3b"/>
<polyline points="437.8,56.5 479.2,56.5 520.6,56.5 562.0,97.0 603.4,142.8 644.8,142.8" fill="none" stroke="#4f58a0" stroke-width="1.7"/>
<path d="M562.0,68.2V125.8M557.7,68.2h8.6M557.7,125.8h8.6" stroke="#4f58a0" stroke-width="1.4" fill="none"/>
<path d="M603.4,125.8V159.7M599.1,125.8h8.6M599.1,159.7h8.6" stroke="#4f58a0" stroke-width="1.4" fill="none"/>
<path d="M644.8,132.6V152.9M640.5,132.6h8.6M640.5,152.9h8.6" stroke="#4f58a0" stroke-width="1.4" fill="none"/>
<rect x="434.2" y="52.9" width="7.2" height="7.2" fill="#4f58a0"/>
<rect x="475.6" y="52.9" width="7.2" height="7.2" fill="#4f58a0"/>
<rect x="517.0" y="52.9" width="7.2" height="7.2" fill="#4f58a0"/>
<rect x="558.4" y="93.4" width="7.2" height="7.2" fill="#4f58a0"/>
<rect x="599.8" y="139.2" width="7.2" height="7.2" fill="#4f58a0"/>
<rect x="641.2" y="139.2" width="7.2" height="7.2" fill="#4f58a0"/>
<polyline points="437.8,56.5 479.2,56.5 520.6,56.5 562.0,56.5 603.4,101.9 644.8,136.5" fill="none" stroke="#74d2f2" stroke-width="1.7"/>
<path d="M603.4,73.1V130.7M599.1,73.1h8.6M599.1,130.7h8.6" stroke="#74d2f2" stroke-width="1.4" fill="none"/>
<path d="M644.8,124.6V148.4M640.5,124.6h8.6M640.5,148.4h8.6" stroke="#74d2f2" stroke-width="1.4" fill="none"/>
<rect x="434.2" y="52.9" width="7.2" height="7.2" fill="#74d2f2"/>
<rect x="475.6" y="52.9" width="7.2" height="7.2" fill="#74d2f2"/>
<rect x="517.0" y="52.9" width="7.2" height="7.2" fill="#74d2f2"/>
<rect x="558.4" y="52.9" width="7.2" height="7.2" fill="#74d2f2"/>
<rect x="599.8" y="98.3" width="7.2" height="7.2" fill="#74d2f2"/>
<rect x="641.2" y="132.9" width="7.2" height="7.2" fill="#74d2f2"/>
<rect x="427.5" y="36.5" width="227.0" height="130.0" fill="none" stroke="#555555" stroke-width="1"/>
<path d="M457.9,10.4H480.0M468.9,5.4V15.4M465.4,5.4h7M465.4,15.4h7" stroke="#db8d4c" stroke-width="1.6" fill="none"/>
<rect x="465.8" y="7.2" width="6.4" height="6.4" fill="#db8d4c"/>
<path d="M457.9,24.2H480.0M468.9,19.2V29.2M465.4,19.2h7M465.4,29.2h7" stroke="#6d2a3b" stroke-width="1.6" fill="none"/>
<rect x="465.8" y="21.0" width="6.4" height="6.4" fill="#6d2a3b"/>
<path d="M545.3,10.4H567.5M556.4,5.4V15.4M552.9,5.4h7M552.9,15.4h7" stroke="#4f58a0" stroke-width="1.6" fill="none"/>
<rect x="553.2" y="7.2" width="6.4" height="6.4" fill="#4f58a0"/>
<path d="M545.3,24.2H567.5M556.4,19.2V29.2M552.9,19.2h7M552.9,29.2h7" stroke="#74d2f2" stroke-width="1.6" fill="none"/>
<rect x="553.2" y="21.0" width="6.4" height="6.4" fill="#74d2f2"/>
<text x="484.5" y="14.0" font-size="10" word-spacing="-0.6" fill="#231f20"><tspan font-style="italic">N</tspan> = 1, <tspan font-style="italic">n</tspan> = 4</text>
<text x="484.5" y="27.8" font-size="10" word-spacing="-0.6" fill="#231f20"><tspan font-style="italic">N</tspan> = 1, <tspan font-style="italic">n</tspan> = 6</text>
<text x="571.8" y="14.0" font-size="10" word-spacing="-0.6" fill="#231f20"><tspan font-style="italic">N</tspan> = 5, <tspan font-style="italic">n</tspan> = 4</text>
<text x="571.8" y="27.8" font-size="10" word-spacing="-0.6" fill="#231f20"><tspan font-style="italic">N</tspan> = 5, <tspan font-style="italic">n</tspan> = 6</text>
<text x="0" y="217" font-size="14.5" font-weight="bold" fill="#000">c</text>
<line x1="62.7" y1="226.0" x2="62.7" y2="386.0" stroke="#cdcdcd" stroke-width="1"/>
<line x1="99.0" y1="226.0" x2="99.0" y2="386.0" stroke="#cdcdcd" stroke-width="1"/>
<line x1="135.3" y1="226.0" x2="135.3" y2="386.0" stroke="#cdcdcd" stroke-width="1"/>
<line x1="171.6" y1="226.0" x2="171.6" y2="386.0" stroke="#cdcdcd" stroke-width="1"/>
<line x1="207.9" y1="226.0" x2="207.9" y2="386.0" stroke="#cdcdcd" stroke-width="1"/>
<line x1="36.5" y1="380.2" x2="215.5" y2="380.2" stroke="#cdcdcd" stroke-width="1"/>
<line x1="36.5" y1="353.6" x2="215.5" y2="353.6" stroke="#cdcdcd" stroke-width="1"/>
<line x1="36.5" y1="327.0" x2="215.5" y2="327.0" stroke="#cdcdcd" stroke-width="1"/>
<line x1="36.5" y1="300.3" x2="215.5" y2="300.3" stroke="#cdcdcd" stroke-width="1"/>
<line x1="36.5" y1="273.7" x2="215.5" y2="273.7" stroke="#cdcdcd" stroke-width="1"/>
<line x1="36.5" y1="247.1" x2="215.5" y2="247.1" stroke="#cdcdcd" stroke-width="1"/>
<line x1="62.7" y1="386.0" x2="62.7" y2="389.3" stroke="#555555" stroke-width="1.1"/>
<text x="62.7" y="400.7" font-size="9.8" text-anchor="middle" font-weight="normal" font-style="normal" fill="#231f20" >2</text>
<line x1="99.0" y1="386.0" x2="99.0" y2="389.3" stroke="#555555" stroke-width="1.1"/>
<text x="99.0" y="400.7" font-size="9.8" text-anchor="middle" font-weight="normal" font-style="normal" fill="#231f20" >4</text>
<line x1="135.3" y1="386.0" x2="135.3" y2="389.3" stroke="#555555" stroke-width="1.1"/>
<text x="135.3" y="400.7" font-size="9.8" text-anchor="middle" font-weight="normal" font-style="normal" fill="#231f20" >6</text>
<line x1="171.6" y1="386.0" x2="171.6" y2="389.3" stroke="#555555" stroke-width="1.1"/>
<text x="171.6" y="400.7" font-size="9.8" text-anchor="middle" font-weight="normal" font-style="normal" fill="#231f20" >8</text>
<line x1="207.9" y1="386.0" x2="207.9" y2="389.3" stroke="#555555" stroke-width="1.1"/>
<text x="207.9" y="400.7" font-size="9.8" text-anchor="middle" font-weight="normal" font-style="normal" fill="#231f20" >10</text>
<line x1="33.2" y1="380.2" x2="36.5" y2="380.2" stroke="#555555" stroke-width="1.1"/>
<text x="28.6" y="383.6" font-size="9.8" text-anchor="end" font-weight="normal" font-style="normal" fill="#231f20" >0</text>
<line x1="33.2" y1="353.6" x2="36.5" y2="353.6" stroke="#555555" stroke-width="1.1"/>
<text x="28.6" y="357.0" font-size="9.8" text-anchor="end" font-weight="normal" font-style="normal" fill="#231f20" >10</text>
<line x1="33.2" y1="327.0" x2="36.5" y2="327.0" stroke="#555555" stroke-width="1.1"/>
<text x="28.6" y="330.4" font-size="9.8" text-anchor="end" font-weight="normal" font-style="normal" fill="#231f20" >20</text>
<line x1="33.2" y1="300.3" x2="36.5" y2="300.3" stroke="#555555" stroke-width="1.1"/>
<text x="28.6" y="303.7" font-size="9.8" text-anchor="end" font-weight="normal" font-style="normal" fill="#231f20" >30</text>
<line x1="33.2" y1="273.7" x2="36.5" y2="273.7" stroke="#555555" stroke-width="1.1"/>
<text x="28.6" y="277.1" font-size="9.8" text-anchor="end" font-weight="normal" font-style="normal" fill="#231f20" >40</text>
<line x1="33.2" y1="247.1" x2="36.5" y2="247.1" stroke="#555555" stroke-width="1.1"/>
<text x="28.6" y="250.5" font-size="9.8" text-anchor="end" font-weight="normal" font-style="normal" fill="#231f20" >50</text>
<text x="126.0" y="413.5" font-size="10.7" text-anchor="middle" font-weight="normal" font-style="italic" fill="#231f20" >n</text>
<text transform="translate(8.6 306.8) rotate(-90)" font-size="10.7" text-anchor="middle" fill="#231f20">Kernel quality</text>
<text x="128.7" y="219.8" font-size="10.7" text-anchor="middle" font-weight="normal" font-style="normal" fill="#231f20" >Reservoir expressivity</text>
<polyline points="44.5,377.5 62.7,372.2 80.8,364.2 99.0,353.6 117.1,340.3 135.3,324.3 153.4,305.7 171.6,284.4 189.8,260.4 207.9,233.8" fill="none" stroke="#777" stroke-width="1.8" stroke-dasharray="4,2.2"/>
<path d="M41.5,377.5h6M44.5,374.5v6" stroke="#8a8a8a" stroke-width="1.1"/>
<path d="M59.7,372.2h6M62.7,369.2v6" stroke="#8a8a8a" stroke-width="1.1"/>
<path d="M77.8,364.2h6M80.8,361.2v6" stroke="#8a8a8a" stroke-width="1.1"/>
<path d="M96.0,353.6h6M99.0,350.6v6" stroke="#8a8a8a" stroke-width="1.1"/>
<path d="M114.1,340.3h6M117.1,337.3v6" stroke="#8a8a8a" stroke-width="1.1"/>
<path d="M132.3,324.3h6M135.3,321.3v6" stroke="#8a8a8a" stroke-width="1.1"/>
<path d="M150.4,305.7h6M153.4,302.7v6" stroke="#8a8a8a" stroke-width="1.1"/>
<path d="M168.6,284.4h6M171.6,281.4v6" stroke="#8a8a8a" stroke-width="1.1"/>
<path d="M186.8,260.4h6M189.8,257.4v6" stroke="#8a8a8a" stroke-width="1.1"/>
<path d="M204.9,233.8h6M207.9,230.8v6" stroke="#8a8a8a" stroke-width="1.1"/>
<polyline points="44.5,377.4 62.7,377.0 80.8,377.0 99.0,377.0 117.1,375.9 135.3,375.1 153.4,375.1 171.6,375.1 189.8,375.1 207.9,375.1" fill="none" stroke="#db8d4c" stroke-width="1.5"/>
<path d="M62.7,375.9V378.1M57.2,375.9h11M57.2,378.1h11" stroke="#db8d4c" stroke-width="1.4" fill="none"/>
<path d="M80.8,375.9V378.1M75.3,375.9h11M75.3,378.1h11" stroke="#db8d4c" stroke-width="1.4" fill="none"/>
<path d="M99.0,375.7V378.3M93.5,375.7h11M93.5,378.3h11" stroke="#db8d4c" stroke-width="1.4" fill="none"/>
<path d="M117.1,374.3V377.5M111.6,374.3h11M111.6,377.5h11" stroke="#db8d4c" stroke-width="1.4" fill="none"/>
<path d="M135.3,373.5V376.7M129.8,373.5h11M129.8,376.7h11" stroke="#db8d4c" stroke-width="1.4" fill="none"/>
<path d="M153.4,373.5V376.7M147.9,373.5h11M147.9,376.7h11" stroke="#db8d4c" stroke-width="1.4" fill="none"/>
<path d="M171.6,373.5V376.7M166.1,373.5h11M166.1,376.7h11" stroke="#db8d4c" stroke-width="1.4" fill="none"/>
<path d="M189.8,373.5V376.7M184.2,373.5h11M184.2,376.7h11" stroke="#db8d4c" stroke-width="1.4" fill="none"/>
<path d="M207.9,373.5V376.7M202.4,373.5h11M202.4,376.7h11" stroke="#db8d4c" stroke-width="1.4" fill="none"/>
<circle cx="44.5" cy="377.4" r="4.1" fill="#db8d4c"/>
<circle cx="62.7" cy="377.0" r="4.1" fill="#db8d4c"/>
<circle cx="80.8" cy="377.0" r="4.1" fill="#db8d4c"/>
<circle cx="99.0" cy="377.0" r="4.1" fill="#db8d4c"/>
<circle cx="117.1" cy="375.9" r="4.1" fill="#db8d4c"/>
<circle cx="135.3" cy="375.1" r="4.1" fill="#db8d4c"/>
<circle cx="153.4" cy="375.1" r="4.1" fill="#db8d4c"/>
<circle cx="171.6" cy="375.1" r="4.1" fill="#db8d4c"/>
<circle cx="189.8" cy="375.1" r="4.1" fill="#db8d4c"/>
<circle cx="207.9" cy="375.1" r="4.1" fill="#db8d4c"/>
<polyline points="44.5,377.5 62.7,372.2 80.8,364.2 99.0,358.1 117.1,352.0 135.3,346.9 153.4,339.5 171.6,334.7 189.8,328.3 207.9,329.1" fill="none" stroke="#6d2a3b" stroke-width="1.5"/>
<path d="M80.8,363.2V365.3M75.3,363.2h11M75.3,365.3h11" stroke="#6d2a3b" stroke-width="1.4" fill="none"/>
<path d="M99.0,354.6V361.6M93.5,354.6h11M93.5,361.6h11" stroke="#6d2a3b" stroke-width="1.4" fill="none"/>
<path d="M117.1,348.0V356.0M111.6,348.0h11M111.6,356.0h11" stroke="#6d2a3b" stroke-width="1.4" fill="none"/>
<path d="M135.3,340.8V353.0M129.8,340.8h11M129.8,353.0h11" stroke="#6d2a3b" stroke-width="1.4" fill="none"/>
<path d="M153.4,334.1V344.8M147.9,334.1h11M147.9,344.8h11" stroke="#6d2a3b" stroke-width="1.4" fill="none"/>
<path d="M171.6,326.2V343.2M166.1,326.2h11M166.1,343.2h11" stroke="#6d2a3b" stroke-width="1.4" fill="none"/>
<path d="M189.8,317.9V338.7M184.2,317.9h11M184.2,338.7h11" stroke="#6d2a3b" stroke-width="1.4" fill="none"/>
<path d="M207.9,317.6V340.5M202.4,317.6h11M202.4,340.5h11" stroke="#6d2a3b" stroke-width="1.4" fill="none"/>
<circle cx="44.5" cy="377.5" r="4.1" fill="#6d2a3b"/>
<circle cx="62.7" cy="372.2" r="4.1" fill="#6d2a3b"/>
<circle cx="80.8" cy="364.2" r="4.1" fill="#6d2a3b"/>
<circle cx="99.0" cy="358.1" r="4.1" fill="#6d2a3b"/>
<circle cx="117.1" cy="352.0" r="4.1" fill="#6d2a3b"/>
<circle cx="135.3" cy="346.9" r="4.1" fill="#6d2a3b"/>
<circle cx="153.4" cy="339.5" r="4.1" fill="#6d2a3b"/>
<circle cx="171.6" cy="334.7" r="4.1" fill="#6d2a3b"/>
<circle cx="189.8" cy="328.3" r="4.1" fill="#6d2a3b"/>
<circle cx="207.9" cy="329.1" r="4.1" fill="#6d2a3b"/>
<polyline points="44.5,377.5 62.7,372.2 80.8,364.2 99.0,354.6 117.1,341.3 135.3,325.9 153.4,311.0 171.6,294.5 189.8,276.4 207.9,261.5" fill="none" stroke="#4f58a0" stroke-width="1.5"/>
<path d="M80.8,363.4V365.0M75.3,363.4h11M75.3,365.0h11" stroke="#4f58a0" stroke-width="1.4" fill="none"/>
<path d="M99.0,353.0V356.2M93.5,353.0h11M93.5,356.2h11" stroke="#4f58a0" stroke-width="1.4" fill="none"/>
<path d="M117.1,339.2V343.5M111.6,339.2h11M111.6,343.5h11" stroke="#4f58a0" stroke-width="1.4" fill="none"/>
<path d="M135.3,323.2V328.6M129.8,323.2h11M129.8,328.6h11" stroke="#4f58a0" stroke-width="1.4" fill="none"/>
<path d="M153.4,306.7V315.2M147.9,306.7h11M147.9,315.2h11" stroke="#4f58a0" stroke-width="1.4" fill="none"/>
<path d="M171.6,286.5V302.5M166.1,286.5h11M166.1,302.5h11" stroke="#4f58a0" stroke-width="1.4" fill="none"/>
<path d="M189.8,264.9V287.8M184.2,264.9h11M184.2,287.8h11" stroke="#4f58a0" stroke-width="1.4" fill="none"/>
<path d="M207.9,244.2V278.8M202.4,244.2h11M202.4,278.8h11" stroke="#4f58a0" stroke-width="1.4" fill="none"/>
<circle cx="44.5" cy="377.5" r="4.1" fill="#4f58a0"/>
<circle cx="62.7" cy="372.2" r="4.1" fill="#4f58a0"/>
<circle cx="80.8" cy="364.2" r="4.1" fill="#4f58a0"/>
<circle cx="99.0" cy="354.6" r="4.1" fill="#4f58a0"/>
<circle cx="117.1" cy="341.3" r="4.1" fill="#4f58a0"/>
<circle cx="135.3" cy="325.9" r="4.1" fill="#4f58a0"/>
<circle cx="153.4" cy="311.0" r="4.1" fill="#4f58a0"/>
<circle cx="171.6" cy="294.5" r="4.1" fill="#4f58a0"/>
<circle cx="189.8" cy="276.4" r="4.1" fill="#4f58a0"/>
<circle cx="207.9" cy="261.5" r="4.1" fill="#4f58a0"/>
<polyline points="44.5,377.5 62.7,371.9 80.8,364.2 99.0,353.6 117.1,340.8 135.3,324.6 153.4,307.0 171.6,285.4 189.8,263.1 207.9,236.5" fill="none" stroke="#74d2f2" stroke-width="1.5"/>
<path d="M117.1,339.5V342.1M111.6,339.5h11M111.6,342.1h11" stroke="#74d2f2" stroke-width="1.4" fill="none"/>
<path d="M135.3,323.0V326.2M129.8,323.0h11M129.8,326.2h11" stroke="#74d2f2" stroke-width="1.4" fill="none"/>
<path d="M153.4,304.9V309.1M147.9,304.9h11M147.9,309.1h11" stroke="#74d2f2" stroke-width="1.4" fill="none"/>
<path d="M171.6,282.8V288.1M166.1,282.8h11M166.1,288.1h11" stroke="#74d2f2" stroke-width="1.4" fill="none"/>
<path d="M189.8,258.8V267.3M184.2,258.8h11M184.2,267.3h11" stroke="#74d2f2" stroke-width="1.4" fill="none"/>
<path d="M207.9,231.7V241.2M202.4,231.7h11M202.4,241.2h11" stroke="#74d2f2" stroke-width="1.4" fill="none"/>
<circle cx="44.5" cy="377.5" r="4.1" fill="#74d2f2"/>
<circle cx="62.7" cy="371.9" r="4.1" fill="#74d2f2"/>
<circle cx="80.8" cy="364.2" r="4.1" fill="#74d2f2"/>
<circle cx="99.0" cy="353.6" r="4.1" fill="#74d2f2"/>
<circle cx="117.1" cy="340.8" r="4.1" fill="#74d2f2"/>
<circle cx="135.3" cy="324.6" r="4.1" fill="#74d2f2"/>
<circle cx="153.4" cy="307.0" r="4.1" fill="#74d2f2"/>
<circle cx="171.6" cy="285.4" r="4.1" fill="#74d2f2"/>
<circle cx="189.8" cy="263.1" r="4.1" fill="#74d2f2"/>
<circle cx="207.9" cy="236.5" r="4.1" fill="#74d2f2"/>
<path d="M36.5,226.0H215.5" stroke="#b0b0b0" stroke-width="1.4"/>
<path d="M36.5,386.0H215.5" stroke="#bdbdbd" stroke-width="1.6"/>
<path d="M36.5,226.0V386.0M215.5,226.0V386.0" stroke="#555555" stroke-width="1"/>
<rect x="42" y="231" width="80.5" height="70" fill="#fff"/>
<path d="M45.3,238.3H65.2" stroke="#707070" stroke-width="1.9" stroke-dasharray="5.7,0.8,8.4,2.8,2.2,10"/>
<path d="M52.4,238.3h6M55.4,235.2v6.4" stroke="#707070" stroke-width="1.5"/>
<text x="70.0" y="241.9" font-size="10.7" text-anchor="start" font-weight="normal" font-style="normal" fill="#231f20" >Saturation</text>
<path d="M45,252.0H65.7M55.3,247.0V257.0M49.8,247.0h11M49.8,257.0h11" stroke="#db8d4c" stroke-width="1.4" fill="none"/>
<circle cx="55.3" cy="252.0" r="4.1" fill="#db8d4c"/>
<text x="70" y="255.6" font-size="10.7" word-spacing="-0.5" fill="#231f20"><tspan font-style="italic">N</tspan> = 1</text>
<path d="M45,265.7H65.7M55.3,260.7V270.7M49.8,260.7h11M49.8,270.7h11" stroke="#6d2a3b" stroke-width="1.4" fill="none"/>
<circle cx="55.3" cy="265.7" r="4.1" fill="#6d2a3b"/>
<text x="70" y="269.3" font-size="10.7" word-spacing="-0.5" fill="#231f20"><tspan font-style="italic">N</tspan> = 2</text>
<path d="M45,279.5H65.7M55.3,274.5V284.5M49.8,274.5h11M49.8,284.5h11" stroke="#4f58a0" stroke-width="1.4" fill="none"/>
<circle cx="55.3" cy="279.5" r="4.1" fill="#4f58a0"/>
<text x="70" y="283.1" font-size="10.7" word-spacing="-0.5" fill="#231f20"><tspan font-style="italic">N</tspan> = 3</text>
<path d="M45,293.1H65.7M55.3,288.1V298.1M49.8,288.1h11M49.8,298.1h11" stroke="#74d2f2" stroke-width="1.4" fill="none"/>
<circle cx="55.3" cy="293.1" r="4.1" fill="#74d2f2"/>
<text x="70" y="296.7" font-size="10.7" word-spacing="-0.5" fill="#231f20"><tspan font-style="italic">N</tspan> = 5</text>
<g shape-rendering="crispEdges">
<rect x="248.70" y="225.60" width="7.96" height="7.96" fill="#7fe2fa"/>
<rect x="256.36" y="225.60" width="7.96" height="7.96" fill="#7fe2fa"/>
<rect x="264.02" y="225.60" width="7.96" height="7.96" fill="#7fe2fa"/>
<rect x="271.68" y="225.60" width="7.96" height="7.96" fill="#fcc866"/>
<rect x="279.34" y="225.60" width="7.96" height="7.96" fill="#fcc866"/>
<rect x="287.00" y="225.60" width="7.96" height="7.96" fill="#fcc866"/>
<rect x="294.66" y="225.60" width="7.96" height="7.96" fill="#fcc866"/>
<rect x="302.32" y="225.60" width="7.96" height="7.96" fill="#fcc866"/>
<rect x="309.98" y="225.60" width="7.96" height="7.96" fill="#fcc866"/>
<rect x="317.64" y="225.60" width="7.96" height="7.96" fill="#fcc866"/>
<rect x="325.30" y="225.60" width="7.96" height="7.96" fill="#fcc866"/>
<rect x="332.96" y="225.60" width="7.96" height="7.96" fill="#fcc866"/>
<rect x="340.62" y="225.60" width="7.96" height="7.96" fill="#fcc866"/>
<rect x="348.28" y="225.60" width="7.96" height="7.96" fill="#fcc866"/>
<rect x="355.94" y="225.60" width="7.96" height="7.96" fill="#7fe2fa"/>
<rect x="363.60" y="225.60" width="7.96" height="7.96" fill="#fcc866"/>
<rect x="371.26" y="225.60" width="7.96" height="7.96" fill="#fcc866"/>
<rect x="378.92" y="225.60" width="7.96" height="7.96" fill="#7fe2fa"/>
<rect x="386.58" y="225.60" width="7.96" height="7.96" fill="#7fe2fa"/>
<rect x="394.24" y="225.60" width="7.96" height="7.96" fill="#fcc866"/>
<rect x="401.90" y="225.60" width="7.96" height="7.96" fill="#7fe2fa"/>
<rect x="248.70" y="233.26" width="7.96" height="7.96" fill="#7fe2fa"/>
<rect x="256.36" y="233.26" width="7.96" height="7.96" fill="#7fe2fa"/>
<rect x="264.02" y="233.26" width="7.96" height="7.96" fill="#7fe2fa"/>
<rect x="271.68" y="233.26" width="7.96" height="7.96" fill="#fcc866"/>
<rect x="279.34" y="233.26" width="7.96" height="7.96" fill="#fcc866"/>
<rect x="287.00" y="233.26" width="7.96" height="7.96" fill="#fcc866"/>
<rect x="294.66" y="233.26" width="7.96" height="7.96" fill="#fcc866"/>
<rect x="302.32" y="233.26" width="7.96" height="7.96" fill="#fcc866"/>
<rect x="309.98" y="233.26" width="7.96" height="7.96" fill="#fcc866"/>
<rect x="317.64" y="233.26" width="7.96" height="7.96" fill="#fcc866"/>
<rect x="325.30" y="233.26" width="7.96" height="7.96" fill="#fcc866"/>
<rect x="332.96" y="233.26" width="7.96" height="7.96" fill="#fcc866"/>
<rect x="340.62" y="233.26" width="7.96" height="7.96" fill="#fcc866"/>
<rect x="348.28" y="233.26" width="7.96" height="7.96" fill="#fcc866"/>
<rect x="355.94" y="233.26" width="7.96" height="7.96" fill="#7fe2fa"/>
<rect x="363.60" y="233.26" width="7.96" height="7.96" fill="#fcc866"/>
<rect x="371.26" y="233.26" width="7.96" height="7.96" fill="#fcc866"/>
<rect x="378.92" y="233.26" width="7.96" height="7.96" fill="#7fe2fa"/>
<rect x="386.58" y="233.26" width="7.96" height="7.96" fill="#7fe2fa"/>
<rect x="394.24" y="233.26" width="7.96" height="7.96" fill="#fcc866"/>
<rect x="401.90" y="233.26" width="7.96" height="7.96" fill="#7fe2fa"/>
<rect x="248.70" y="240.92" width="7.96" height="7.96" fill="#7fe2fa"/>
<rect x="256.36" y="240.92" width="7.96" height="7.96" fill="#7fe2fa"/>
<rect x="264.02" y="240.92" width="7.96" height="7.96" fill="#7fe2fa"/>
<rect x="271.68" y="240.92" width="7.96" height="7.96" fill="#fcc866"/>
<rect x="279.34" y="240.92" width="7.96" height="7.96" fill="#fcc866"/>
<rect x="287.00" y="240.92" width="7.96" height="7.96" fill="#fcc866"/>
<rect x="294.66" y="240.92" width="7.96" height="7.96" fill="#fcc866"/>
<rect x="302.32" y="240.92" width="7.96" height="7.96" fill="#fcc866"/>
<rect x="309.98" y="240.92" width="7.96" height="7.96" fill="#fcc866"/>
<rect x="317.64" y="240.92" width="7.96" height="7.96" fill="#fcc866"/>
<rect x="325.30" y="240.92" width="7.96" height="7.96" fill="#fcc866"/>
<rect x="332.96" y="240.92" width="7.96" height="7.96" fill="#fcc866"/>
<rect x="340.62" y="240.92" width="7.96" height="7.96" fill="#fcc866"/>
<rect x="348.28" y="240.92" width="7.96" height="7.96" fill="#fcc866"/>
<rect x="355.94" y="240.92" width="7.96" height="7.96" fill="#7fe2fa"/>
<rect x="363.60" y="240.92" width="7.96" height="7.96" fill="#fcc866"/>
<rect x="371.26" y="240.92" width="7.96" height="7.96" fill="#fcc866"/>
<rect x="378.92" y="240.92" width="7.96" height="7.96" fill="#7fe2fa"/>
<rect x="386.58" y="240.92" width="7.96" height="7.96" fill="#7fe2fa"/>
<rect x="394.24" y="240.92" width="7.96" height="7.96" fill="#fcc866"/>
<rect x="401.90" y="240.92" width="7.96" height="7.96" fill="#7fe2fa"/>
<rect x="248.70" y="248.58" width="7.96" height="7.96" fill="#fcc866"/>
<rect x="256.36" y="248.58" width="7.96" height="7.96" fill="#fcc866"/>
<rect x="264.02" y="248.58" width="7.96" height="7.96" fill="#fcc866"/>
<rect x="271.68" y="248.58" width="7.96" height="7.96" fill="#7fe2fa"/>
<rect x="279.34" y="248.58" width="7.96" height="7.96" fill="#7fe2fa"/>
<rect x="287.00" y="248.58" width="7.96" height="7.96" fill="#7fe2fa"/>
<rect x="294.66" y="248.58" width="7.96" height="7.96" fill="#7fe2fa"/>
<rect x="302.32" y="248.58" width="7.96" height="7.96" fill="#7fe2fa"/>
<rect x="309.98" y="248.58" width="7.96" height="7.96" fill="#7fe2fa"/>
<rect x="317.64" y="248.58" width="7.96" height="7.96" fill="#7fe2fa"/>
<rect x="325.30" y="248.58" width="7.96" height="7.96" fill="#7fe2fa"/>
<rect x="332.96" y="248.58" width="7.96" height="7.96" fill="#7fe2fa"/>
<rect x="340.62" y="248.58" width="7.96" height="7.96" fill="#7fe2fa"/>
<rect x="348.28" y="248.58" width="7.96" height="7.96" fill="#7fe2fa"/>
<rect x="355.94" y="248.58" width="7.96" height="7.96" fill="#fcc866"/>
<rect x="363.60" y="248.58" width="7.96" height="7.96" fill="#7fe2fa"/>
<rect x="371.26" y="248.58" width="7.96" height="7.96" fill="#7fe2fa"/>
<rect x="378.92" y="248.58" width="7.96" height="7.96" fill="#fcc866"/>
<rect x="386.58" y="248.58" width="7.96" height="7.96" fill="#fcc866"/>
<rect x="394.24" y="248.58" width="7.96" height="7.96" fill="#7fe2fa"/>
<rect x="401.90" y="248.58" width="7.96" height="7.96" fill="#fcc866"/>
<rect x="248.70" y="256.24" width="7.96" height="7.96" fill="#fcc866"/>
<rect x="256.36" y="256.24" width="7.96" height="7.96" fill="#fcc866"/>
<rect x="264.02" y="256.24" width="7.96" height="7.96" fill="#fcc866"/>
<rect x="271.68" y="256.24" width="7.96" height="7.96" fill="#7fe2fa"/>
<rect x="279.34" y="256.24" width="7.96" height="7.96" fill="#7fe2fa"/>
<rect x="287.00" y="256.24" width="7.96" height="7.96" fill="#7fe2fa"/>
<rect x="294.66" y="256.24" width="7.96" height="7.96" fill="#7fe2fa"/>
<rect x="302.32" y="256.24" width="7.96" height="7.96" fill="#7fe2fa"/>
<rect x="309.98" y="256.24" width="7.96" height="7.96" fill="#7fe2fa"/>
<rect x="317.64" y="256.24" width="7.96" height="7.96" fill="#7fe2fa"/>
<rect x="325.30" y="256.24" width="7.96" height="7.96" fill="#7fe2fa"/>
<rect x="332.96" y="256.24" width="7.96" height="7.96" fill="#7fe2fa"/>
<rect x="340.62" y="256.24" width="7.96" height="7.96" fill="#7fe2fa"/>
<rect x="348.28" y="256.24" width="7.96" height="7.96" fill="#7fe2fa"/>
<rect x="355.94" y="256.24" width="7.96" height="7.96" fill="#fcc866"/>
<rect x="363.60" y="256.24" width="7.96" height="7.96" fill="#7fe2fa"/>
<rect x="371.26" y="256.24" width="7.96" height="7.96" fill="#7fe2fa"/>
<rect x="378.92" y="256.24" width="7.96" height="7.96" fill="#fcc866"/>
<rect x="386.58" y="256.24" width="7.96" height="7.96" fill="#fcc866"/>
<rect x="394.24" y="256.24" width="7.96" height="7.96" fill="#7fe2fa"/>
<rect x="401.90" y="256.24" width="7.96" height="7.96" fill="#fcc866"/>
<rect x="248.70" y="263.90" width="7.96" height="7.96" fill="#fcc866"/>
<rect x="256.36" y="263.90" width="7.96" height="7.96" fill="#fcc866"/>
<rect x="264.02" y="263.90" width="7.96" height="7.96" fill="#fcc866"/>
<rect x="271.68" y="263.90" width="7.96" height="7.96" fill="#7fe2fa"/>
<rect x="279.34" y="263.90" width="7.96" height="7.96" fill="#7fe2fa"/>
<rect x="287.00" y="263.90" width="7.96" height="7.96" fill="#7fe2fa"/>
<rect x="294.66" y="263.90" width="7.96" height="7.96" fill="#7fe2fa"/>
<rect x="302.32" y="263.90" width="7.96" height="7.96" fill="#7fe2fa"/>
<rect x="309.98" y="263.90" width="7.96" height="7.96" fill="#7fe2fa"/>
<rect x="317.64" y="263.90" width="7.96" height="7.96" fill="#7fe2fa"/>
<rect x="325.30" y="263.90" width="7.96" height="7.96" fill="#7fe2fa"/>
<rect x="332.96" y="263.90" width="7.96" height="7.96" fill="#7fe2fa"/>
<rect x="340.62" y="263.90" width="7.96" height="7.96" fill="#7fe2fa"/>
<rect x="348.28" y="263.90" width="7.96" height="7.96" fill="#7fe2fa"/>
<rect x="355.94" y="263.90" width="7.96" height="7.96" fill="#fcc866"/>
<rect x="363.60" y="263.90" width="7.96" height="7.96" fill="#7fe2fa"/>
<rect x="371.26" y="263.90" width="7.96" height="7.96" fill="#7fe2fa"/>
<rect x="378.92" y="263.90" width="7.96" height="7.96" fill="#fcc866"/>
<rect x="386.58" y="263.90" width="7.96" height="7.96" fill="#fcc866"/>
<rect x="394.24" y="263.90" width="7.96" height="7.96" fill="#7fe2fa"/>
<rect x="401.90" y="263.90" width="7.96" height="7.96" fill="#fcc866"/>
<rect x="248.70" y="271.56" width="7.96" height="7.96" fill="#fcc866"/>
<rect x="256.36" y="271.56" width="7.96" height="7.96" fill="#fcc866"/>
<rect x="264.02" y="271.56" width="7.96" height="7.96" fill="#fcc866"/>
<rect x="271.68" y="271.56" width="7.96" height="7.96" fill="#7fe2fa"/>
<rect x="279.34" y="271.56" width="7.96" height="7.96" fill="#7fe2fa"/>
<rect x="287.00" y="271.56" width="7.96" height="7.96" fill="#7fe2fa"/>
<rect x="294.66" y="271.56" width="7.96" height="7.96" fill="#7fe2fa"/>
<rect x="302.32" y="271.56" width="7.96" height="7.96" fill="#7fe2fa"/>
<rect x="309.98" y="271.56" width="7.96" height="7.96" fill="#7fe2fa"/>
<rect x="317.64" y="271.56" width="7.96" height="7.96" fill="#7fe2fa"/>
<rect x="325.30" y="271.56" width="7.96" height="7.96" fill="#7fe2fa"/>
<rect x="332.96" y="271.56" width="7.96" height="7.96" fill="#7fe2fa"/>
<rect x="340.62" y="271.56" width="7.96" height="7.96" fill="#7fe2fa"/>
<rect x="348.28" y="271.56" width="7.96" height="7.96" fill="#7fe2fa"/>
<rect x="355.94" y="271.56" width="7.96" height="7.96" fill="#fcc866"/>
<rect x="363.60" y="271.56" width="7.96" height="7.96" fill="#7fe2fa"/>
<rect x="371.26" y="271.56" width="7.96" height="7.96" fill="#7fe2fa"/>
<rect x="378.92" y="271.56" width="7.96" height="7.96" fill="#fcc866"/>
<rect x="386.58" y="271.56" width="7.96" height="7.96" fill="#fcc866"/>
<rect x="394.24" y="271.56" width="7.96" height="7.96" fill="#7fe2fa"/>
<rect x="401.90" y="271.56" width="7.96" height="7.96" fill="#fcc866"/>
<rect x="248.70" y="279.22" width="7.96" height="7.96" fill="#fcc866"/>
<rect x="256.36" y="279.22" width="7.96" height="7.96" fill="#fcc866"/>
<rect x="264.02" y="279.22" width="7.96" height="7.96" fill="#fcc866"/>
<rect x="271.68" y="279.22" width="7.96" height="7.96" fill="#7fe2fa"/>
<rect x="279.34" y="279.22" width="7.96" height="7.96" fill="#7fe2fa"/>
<rect x="287.00" y="279.22" width="7.96" height="7.96" fill="#7fe2fa"/>
<rect x="294.66" y="279.22" width="7.96" height="7.96" fill="#7fe2fa"/>
<rect x="302.32" y="279.22" width="7.96" height="7.96" fill="#7fe2fa"/>
<rect x="309.98" y="279.22" width="7.96" height="7.96" fill="#7fe2fa"/>
<rect x="317.64" y="279.22" width="7.96" height="7.96" fill="#7fe2fa"/>
<rect x="325.30" y="279.22" width="7.96" height="7.96" fill="#7fe2fa"/>
<rect x="332.96" y="279.22" width="7.96" height="7.96" fill="#7fe2fa"/>
<rect x="340.62" y="279.22" width="7.96" height="7.96" fill="#7fe2fa"/>
<rect x="348.28" y="279.22" width="7.96" height="7.96" fill="#7fe2fa"/>
<rect x="355.94" y="279.22" width="7.96" height="7.96" fill="#fcc866"/>
<rect x="363.60" y="279.22" width="7.96" height="7.96" fill="#7fe2fa"/>
<rect x="371.26" y="279.22" width="7.96" height="7.96" fill="#7fe2fa"/>
<rect x="378.92" y="279.22" width="7.96" height="7.96" fill="#fcc866"/>
<rect x="386.58" y="279.22" width="7.96" height="7.96" fill="#fcc866"/>
<rect x="394.24" y="279.22" width="7.96" height="7.96" fill="#7fe2fa"/>
<rect x="401.90" y="279.22" width="7.96" height="7.96" fill="#fcc866"/>
<rect x="248.70" y="286.88" width="7.96" height="7.96" fill="#fcc866"/>
<rect x="256.36" y="286.88" width="7.96" height="7.96" fill="#fcc866"/>
<rect x="264.02" y="286.88" width="7.96" height="7.96" fill="#fcc866"/>
<rect x="271.68" y="286.88" width="7.96" height="7.96" fill="#7fe2fa"/>
<rect x="279.34" y="286.88" width="7.96" height="7.96" fill="#7fe2fa"/>
<rect x="287.00" y="286.88" width="7.96" height="7.96" fill="#7fe2fa"/>
<rect x="294.66" y="286.88" width="7.96" height="7.96" fill="#7fe2fa"/>
<rect x="302.32" y="286.88" width="7.96" height="7.96" fill="#7fe2fa"/>
<rect x="309.98" y="286.88" width="7.96" height="7.96" fill="#7fe2fa"/>
<rect x="317.64" y="286.88" width="7.96" height="7.96" fill="#7fe2fa"/>
<rect x="325.30" y="286.88" width="7.96" height="7.96" fill="#7fe2fa"/>
<rect x="332.96" y="286.88" width="7.96" height="7.96" fill="#7fe2fa"/>
<rect x="340.62" y="286.88" width="7.96" height="7.96" fill="#7fe2fa"/>
<rect x="348.28" y="286.88" width="7.96" height="7.96" fill="#7fe2fa"/>
<rect x="355.94" y="286.88" width="7.96" height="7.96" fill="#fcc866"/>
<rect x="363.60" y="286.88" width="7.96" height="7.96" fill="#7fe2fa"/>
<rect x="371.26" y="286.88" width="7.96" height="7.96" fill="#7fe2fa"/>
<rect x="378.92" y="286.88" width="7.96" height="7.96" fill="#fcc866"/>
<rect x="386.58" y="286.88" width="7.96" height="7.96" fill="#fcc866"/>
<rect x="394.24" y="286.88" width="7.96" height="7.96" fill="#7fe2fa"/>
<rect x="401.90" y="286.88" width="7.96" height="7.96" fill="#fcc866"/>
<rect x="248.70" y="294.54" width="7.96" height="7.96" fill="#fcc866"/>
<rect x="256.36" y="294.54" width="7.96" height="7.96" fill="#fcc866"/>
<rect x="264.02" y="294.54" width="7.96" height="7.96" fill="#fcc866"/>
<rect x="271.68" y="294.54" width="7.96" height="7.96" fill="#7fe2fa"/>
<rect x="279.34" y="294.54" width="7.96" height="7.96" fill="#7fe2fa"/>
<rect x="287.00" y="294.54" width="7.96" height="7.96" fill="#7fe2fa"/>
<rect x="294.66" y="294.54" width="7.96" height="7.96" fill="#7fe2fa"/>
<rect x="302.32" y="294.54" width="7.96" height="7.96" fill="#7fe2fa"/>
<rect x="309.98" y="294.54" width="7.96" height="7.96" fill="#7fe2fa"/>
<rect x="317.64" y="294.54" width="7.96" height="7.96" fill="#7fe2fa"/>
<rect x="325.30" y="294.54" width="7.96" height="7.96" fill="#7fe2fa"/>
<rect x="332.96" y="294.54" width="7.96" height="7.96" fill="#7fe2fa"/>
<rect x="340.62" y="294.54" width="7.96" height="7.96" fill="#7fe2fa"/>
<rect x="348.28" y="294.54" width="7.96" height="7.96" fill="#7fe2fa"/>
<rect x="355.94" y="294.54" width="7.96" height="7.96" fill="#fcc866"/>
<rect x="363.60" y="294.54" width="7.96" height="7.96" fill="#7fe2fa"/>
<rect x="371.26" y="294.54" width="7.96" height="7.96" fill="#7fe2fa"/>
<rect x="378.92" y="294.54" width="7.96" height="7.96" fill="#fcc866"/>
<rect x="386.58" y="294.54" width="7.96" height="7.96" fill="#fcc866"/>
<rect x="394.24" y="294.54" width="7.96" height="7.96" fill="#7fe2fa"/>
<rect x="401.90" y="294.54" width="7.96" height="7.96" fill="#fcc866"/>
<rect x="248.70" y="302.20" width="7.96" height="7.96" fill="#fcc866"/>
<rect x="256.36" y="302.20" width="7.96" height="7.96" fill="#fcc866"/>
<rect x="264.02" y="302.20" width="7.96" height="7.96" fill="#fcc866"/>
<rect x="271.68" y="302.20" width="7.96" height="7.96" fill="#7fe2fa"/>
<rect x="279.34" y="302.20" width="7.96" height="7.96" fill="#7fe2fa"/>
<rect x="287.00" y="302.20" width="7.96" height="7.96" fill="#7fe2fa"/>
<rect x="294.66" y="302.20" width="7.96" height="7.96" fill="#7fe2fa"/>
<rect x="302.32" y="302.20" width="7.96" height="7.96" fill="#7fe2fa"/>
<rect x="309.98" y="302.20" width="7.96" height="7.96" fill="#7fe2fa"/>
<rect x="317.64" y="302.20" width="7.96" height="7.96" fill="#7fe2fa"/>
<rect x="325.30" y="302.20" width="7.96" height="7.96" fill="#7fe2fa"/>
<rect x="332.96" y="302.20" width="7.96" height="7.96" fill="#7fe2fa"/>
<rect x="340.62" y="302.20" width="7.96" height="7.96" fill="#7fe2fa"/>
<rect x="348.28" y="302.20" width="7.96" height="7.96" fill="#7fe2fa"/>
<rect x="355.94" y="302.20" width="7.96" height="7.96" fill="#fcc866"/>
<rect x="363.60" y="302.20" width="7.96" height="7.96" fill="#7fe2fa"/>
<rect x="371.26" y="302.20" width="7.96" height="7.96" fill="#7fe2fa"/>
<rect x="378.92" y="302.20" width="7.96" height="7.96" fill="#fcc866"/>
<rect x="386.58" y="302.20" width="7.96" height="7.96" fill="#fcc866"/>
<rect x="394.24" y="302.20" width="7.96" height="7.96" fill="#7fe2fa"/>
<rect x="401.90" y="302.20" width="7.96" height="7.96" fill="#fcc866"/>
<rect x="248.70" y="309.86" width="7.96" height="7.96" fill="#fcc866"/>
<rect x="256.36" y="309.86" width="7.96" height="7.96" fill="#fcc866"/>
<rect x="264.02" y="309.86" width="7.96" height="7.96" fill="#fcc866"/>
<rect x="271.68" y="309.86" width="7.96" height="7.96" fill="#7fe2fa"/>
<rect x="279.34" y="309.86" width="7.96" height="7.96" fill="#7fe2fa"/>
<rect x="287.00" y="309.86" width="7.96" height="7.96" fill="#7fe2fa"/>
<rect x="294.66" y="309.86" width="7.96" height="7.96" fill="#7fe2fa"/>
<rect x="302.32" y="309.86" width="7.96" height="7.96" fill="#7fe2fa"/>
<rect x="309.98" y="309.86" width="7.96" height="7.96" fill="#7fe2fa"/>
<rect x="317.64" y="309.86" width="7.96" height="7.96" fill="#7fe2fa"/>
<rect x="325.30" y="309.86" width="7.96" height="7.96" fill="#7fe2fa"/>
<rect x="332.96" y="309.86" width="7.96" height="7.96" fill="#7fe2fa"/>
<rect x="340.62" y="309.86" width="7.96" height="7.96" fill="#7fe2fa"/>
<rect x="348.28" y="309.86" width="7.96" height="7.96" fill="#7fe2fa"/>
<rect x="355.94" y="309.86" width="7.96" height="7.96" fill="#fcc866"/>
<rect x="363.60" y="309.86" width="7.96" height="7.96" fill="#7fe2fa"/>
<rect x="371.26" y="309.86" width="7.96" height="7.96" fill="#7fe2fa"/>
<rect x="378.92" y="309.86" width="7.96" height="7.96" fill="#fcc866"/>
<rect x="386.58" y="309.86" width="7.96" height="7.96" fill="#fcc866"/>
<rect x="394.24" y="309.86" width="7.96" height="7.96" fill="#7fe2fa"/>
<rect x="401.90" y="309.86" width="7.96" height="7.96" fill="#fcc866"/>
<rect x="248.70" y="317.52" width="7.96" height="7.96" fill="#fcc866"/>
<rect x="256.36" y="317.52" width="7.96" height="7.96" fill="#fcc866"/>
<rect x="264.02" y="317.52" width="7.96" height="7.96" fill="#fcc866"/>
<rect x="271.68" y="317.52" width="7.96" height="7.96" fill="#7fe2fa"/>
<rect x="279.34" y="317.52" width="7.96" height="7.96" fill="#7fe2fa"/>
<rect x="287.00" y="317.52" width="7.96" height="7.96" fill="#7fe2fa"/>
<rect x="294.66" y="317.52" width="7.96" height="7.96" fill="#7fe2fa"/>
<rect x="302.32" y="317.52" width="7.96" height="7.96" fill="#7fe2fa"/>
<rect x="309.98" y="317.52" width="7.96" height="7.96" fill="#7fe2fa"/>
<rect x="317.64" y="317.52" width="7.96" height="7.96" fill="#7fe2fa"/>
<rect x="325.30" y="317.52" width="7.96" height="7.96" fill="#7fe2fa"/>
<rect x="332.96" y="317.52" width="7.96" height="7.96" fill="#7fe2fa"/>
<rect x="340.62" y="317.52" width="7.96" height="7.96" fill="#7fe2fa"/>
<rect x="348.28" y="317.52" width="7.96" height="7.96" fill="#7fe2fa"/>
<rect x="355.94" y="317.52" width="7.96" height="7.96" fill="#fcc866"/>
<rect x="363.60" y="317.52" width="7.96" height="7.96" fill="#7fe2fa"/>
<rect x="371.26" y="317.52" width="7.96" height="7.96" fill="#7fe2fa"/>
<rect x="378.92" y="317.52" width="7.96" height="7.96" fill="#fcc866"/>
<rect x="386.58" y="317.52" width="7.96" height="7.96" fill="#fcc866"/>
<rect x="394.24" y="317.52" width="7.96" height="7.96" fill="#7fe2fa"/>
<rect x="401.90" y="317.52" width="7.96" height="7.96" fill="#fcc866"/>
<rect x="248.70" y="325.18" width="7.96" height="7.96" fill="#fcc866"/>
<rect x="256.36" y="325.18" width="7.96" height="7.96" fill="#fcc866"/>
<rect x="264.02" y="325.18" width="7.96" height="7.96" fill="#fcc866"/>
<rect x="271.68" y="325.18" width="7.96" height="7.96" fill="#7fe2fa"/>
<rect x="279.34" y="325.18" width="7.96" height="7.96" fill="#7fe2fa"/>
<rect x="287.00" y="325.18" width="7.96" height="7.96" fill="#7fe2fa"/>
<rect x="294.66" y="325.18" width="7.96" height="7.96" fill="#7fe2fa"/>
<rect x="302.32" y="325.18" width="7.96" height="7.96" fill="#7fe2fa"/>
<rect x="309.98" y="325.18" width="7.96" height="7.96" fill="#7fe2fa"/>
<rect x="317.64" y="325.18" width="7.96" height="7.96" fill="#7fe2fa"/>
<rect x="325.30" y="325.18" width="7.96" height="7.96" fill="#7fe2fa"/>
<rect x="332.96" y="325.18" width="7.96" height="7.96" fill="#7fe2fa"/>
<rect x="340.62" y="325.18" width="7.96" height="7.96" fill="#7fe2fa"/>
<rect x="348.28" y="325.18" width="7.96" height="7.96" fill="#7fe2fa"/>
<rect x="355.94" y="325.18" width="7.96" height="7.96" fill="#fcc866"/>
<rect x="363.60" y="325.18" width="7.96" height="7.96" fill="#7fe2fa"/>
<rect x="371.26" y="325.18" width="7.96" height="7.96" fill="#7fe2fa"/>
<rect x="378.92" y="325.18" width="7.96" height="7.96" fill="#fcc866"/>
<rect x="386.58" y="325.18" width="7.96" height="7.96" fill="#fcc866"/>
<rect x="394.24" y="325.18" width="7.96" height="7.96" fill="#7fe2fa"/>
<rect x="401.90" y="325.18" width="7.96" height="7.96" fill="#fcc866"/>
<rect x="248.70" y="332.84" width="7.96" height="7.96" fill="#7fe2fa"/>
<rect x="256.36" y="332.84" width="7.96" height="7.96" fill="#7fe2fa"/>
<rect x="264.02" y="332.84" width="7.96" height="7.96" fill="#7fe2fa"/>
<rect x="271.68" y="332.84" width="7.96" height="7.96" fill="#fcc866"/>
<rect x="279.34" y="332.84" width="7.96" height="7.96" fill="#fcc866"/>
<rect x="287.00" y="332.84" width="7.96" height="7.96" fill="#fcc866"/>
<rect x="294.66" y="332.84" width="7.96" height="7.96" fill="#fcc866"/>
<rect x="302.32" y="332.84" width="7.96" height="7.96" fill="#fcc866"/>
<rect x="309.98" y="332.84" width="7.96" height="7.96" fill="#fcc866"/>
<rect x="317.64" y="332.84" width="7.96" height="7.96" fill="#fcc866"/>
<rect x="325.30" y="332.84" width="7.96" height="7.96" fill="#fcc866"/>
<rect x="332.96" y="332.84" width="7.96" height="7.96" fill="#fcc866"/>
<rect x="340.62" y="332.84" width="7.96" height="7.96" fill="#fcc866"/>
<rect x="348.28" y="332.84" width="7.96" height="7.96" fill="#fcc866"/>
<rect x="355.94" y="332.84" width="7.96" height="7.96" fill="#7fe2fa"/>
<rect x="363.60" y="332.84" width="7.96" height="7.96" fill="#fcc866"/>
<rect x="371.26" y="332.84" width="7.96" height="7.96" fill="#fcc866"/>
<rect x="378.92" y="332.84" width="7.96" height="7.96" fill="#7fe2fa"/>
<rect x="386.58" y="332.84" width="7.96" height="7.96" fill="#7fe2fa"/>
<rect x="394.24" y="332.84" width="7.96" height="7.96" fill="#fcc866"/>
<rect x="401.90" y="332.84" width="7.96" height="7.96" fill="#7fe2fa"/>
<rect x="248.70" y="340.50" width="7.96" height="7.96" fill="#fcc866"/>
<rect x="256.36" y="340.50" width="7.96" height="7.96" fill="#fcc866"/>
<rect x="264.02" y="340.50" width="7.96" height="7.96" fill="#fcc866"/>
<rect x="271.68" y="340.50" width="7.96" height="7.96" fill="#7fe2fa"/>
<rect x="279.34" y="340.50" width="7.96" height="7.96" fill="#7fe2fa"/>
<rect x="287.00" y="340.50" width="7.96" height="7.96" fill="#7fe2fa"/>
<rect x="294.66" y="340.50" width="7.96" height="7.96" fill="#7fe2fa"/>
<rect x="302.32" y="340.50" width="7.96" height="7.96" fill="#7fe2fa"/>
<rect x="309.98" y="340.50" width="7.96" height="7.96" fill="#7fe2fa"/>
<rect x="317.64" y="340.50" width="7.96" height="7.96" fill="#7fe2fa"/>
<rect x="325.30" y="340.50" width="7.96" height="7.96" fill="#7fe2fa"/>
<rect x="332.96" y="340.50" width="7.96" height="7.96" fill="#7fe2fa"/>
<rect x="340.62" y="340.50" width="7.96" height="7.96" fill="#7fe2fa"/>
<rect x="348.28" y="340.50" width="7.96" height="7.96" fill="#7fe2fa"/>
<rect x="355.94" y="340.50" width="7.96" height="7.96" fill="#fcc866"/>
<rect x="363.60" y="340.50" width="7.96" height="7.96" fill="#7fe2fa"/>
<rect x="371.26" y="340.50" width="7.96" height="7.96" fill="#7fe2fa"/>
<rect x="378.92" y="340.50" width="7.96" height="7.96" fill="#fcc866"/>
<rect x="386.58" y="340.50" width="7.96" height="7.96" fill="#fcc866"/>
<rect x="394.24" y="340.50" width="7.96" height="7.96" fill="#7fe2fa"/>
<rect x="401.90" y="340.50" width="7.96" height="7.96" fill="#fcc866"/>
<rect x="248.70" y="348.16" width="7.96" height="7.96" fill="#fcc866"/>
<rect x="256.36" y="348.16" width="7.96" height="7.96" fill="#fcc866"/>
<rect x="264.02" y="348.16" width="7.96" height="7.96" fill="#fcc866"/>
<rect x="271.68" y="348.16" width="7.96" height="7.96" fill="#7fe2fa"/>
<rect x="279.34" y="348.16" width="7.96" height="7.96" fill="#7fe2fa"/>
<rect x="287.00" y="348.16" width="7.96" height="7.96" fill="#7fe2fa"/>
<rect x="294.66" y="348.16" width="7.96" height="7.96" fill="#7fe2fa"/>
<rect x="302.32" y="348.16" width="7.96" height="7.96" fill="#7fe2fa"/>
<rect x="309.98" y="348.16" width="7.96" height="7.96" fill="#7fe2fa"/>
<rect x="317.64" y="348.16" width="7.96" height="7.96" fill="#7fe2fa"/>
<rect x="325.30" y="348.16" width="7.96" height="7.96" fill="#7fe2fa"/>
<rect x="332.96" y="348.16" width="7.96" height="7.96" fill="#7fe2fa"/>
<rect x="340.62" y="348.16" width="7.96" height="7.96" fill="#7fe2fa"/>
<rect x="348.28" y="348.16" width="7.96" height="7.96" fill="#7fe2fa"/>
<rect x="355.94" y="348.16" width="7.96" height="7.96" fill="#fcc866"/>
<rect x="363.60" y="348.16" width="7.96" height="7.96" fill="#7fe2fa"/>
<rect x="371.26" y="348.16" width="7.96" height="7.96" fill="#7fe2fa"/>
<rect x="378.92" y="348.16" width="7.96" height="7.96" fill="#fcc866"/>
<rect x="386.58" y="348.16" width="7.96" height="7.96" fill="#fcc866"/>
<rect x="394.24" y="348.16" width="7.96" height="7.96" fill="#7fe2fa"/>
<rect x="401.90" y="348.16" width="7.96" height="7.96" fill="#fcc866"/>
<rect x="248.70" y="355.82" width="7.96" height="7.96" fill="#7fe2fa"/>
<rect x="256.36" y="355.82" width="7.96" height="7.96" fill="#7fe2fa"/>
<rect x="264.02" y="355.82" width="7.96" height="7.96" fill="#7fe2fa"/>
<rect x="271.68" y="355.82" width="7.96" height="7.96" fill="#fcc866"/>
<rect x="279.34" y="355.82" width="7.96" height="7.96" fill="#fcc866"/>
<rect x="287.00" y="355.82" width="7.96" height="7.96" fill="#fcc866"/>
<rect x="294.66" y="355.82" width="7.96" height="7.96" fill="#fcc866"/>
<rect x="302.32" y="355.82" width="7.96" height="7.96" fill="#fcc866"/>
<rect x="309.98" y="355.82" width="7.96" height="7.96" fill="#fcc866"/>
<rect x="317.64" y="355.82" width="7.96" height="7.96" fill="#fcc866"/>
<rect x="325.30" y="355.82" width="7.96" height="7.96" fill="#fcc866"/>
<rect x="332.96" y="355.82" width="7.96" height="7.96" fill="#fcc866"/>
<rect x="340.62" y="355.82" width="7.96" height="7.96" fill="#fcc866"/>
<rect x="348.28" y="355.82" width="7.96" height="7.96" fill="#fcc866"/>
<rect x="355.94" y="355.82" width="7.96" height="7.96" fill="#7fe2fa"/>
<rect x="363.60" y="355.82" width="7.96" height="7.96" fill="#fcc866"/>
<rect x="371.26" y="355.82" width="7.96" height="7.96" fill="#fcc866"/>
<rect x="378.92" y="355.82" width="7.96" height="7.96" fill="#7fe2fa"/>
<rect x="386.58" y="355.82" width="7.96" height="7.96" fill="#7fe2fa"/>
<rect x="394.24" y="355.82" width="7.96" height="7.96" fill="#fcc866"/>
<rect x="401.90" y="355.82" width="7.96" height="7.96" fill="#7fe2fa"/>
<rect x="248.70" y="363.48" width="7.96" height="7.96" fill="#7fe2fa"/>
<rect x="256.36" y="363.48" width="7.96" height="7.96" fill="#7fe2fa"/>
<rect x="264.02" y="363.48" width="7.96" height="7.96" fill="#7fe2fa"/>
<rect x="271.68" y="363.48" width="7.96" height="7.96" fill="#fcc866"/>
<rect x="279.34" y="363.48" width="7.96" height="7.96" fill="#fcc866"/>
<rect x="287.00" y="363.48" width="7.96" height="7.96" fill="#fcc866"/>
<rect x="294.66" y="363.48" width="7.96" height="7.96" fill="#fcc866"/>
<rect x="302.32" y="363.48" width="7.96" height="7.96" fill="#fcc866"/>
<rect x="309.98" y="363.48" width="7.96" height="7.96" fill="#fcc866"/>
<rect x="317.64" y="363.48" width="7.96" height="7.96" fill="#fcc866"/>
<rect x="325.30" y="363.48" width="7.96" height="7.96" fill="#fcc866"/>
<rect x="332.96" y="363.48" width="7.96" height="7.96" fill="#fcc866"/>
<rect x="340.62" y="363.48" width="7.96" height="7.96" fill="#fcc866"/>
<rect x="348.28" y="363.48" width="7.96" height="7.96" fill="#fcc866"/>
<rect x="355.94" y="363.48" width="7.96" height="7.96" fill="#7fe2fa"/>
<rect x="363.60" y="363.48" width="7.96" height="7.96" fill="#fcc866"/>
<rect x="371.26" y="363.48" width="7.96" height="7.96" fill="#fcc866"/>
<rect x="378.92" y="363.48" width="7.96" height="7.96" fill="#7fe2fa"/>
<rect x="386.58" y="363.48" width="7.96" height="7.96" fill="#7fe2fa"/>
<rect x="394.24" y="363.48" width="7.96" height="7.96" fill="#fcc866"/>
<rect x="401.90" y="363.48" width="7.96" height="7.96" fill="#7fe2fa"/>
<rect x="248.70" y="371.14" width="7.96" height="7.96" fill="#fcc866"/>
<rect x="256.36" y="371.14" width="7.96" height="7.96" fill="#fcc866"/>
<rect x="264.02" y="371.14" width="7.96" height="7.96" fill="#fcc866"/>
<rect x="271.68" y="371.14" width="7.96" height="7.96" fill="#7fe2fa"/>
<rect x="279.34" y="371.14" width="7.96" height="7.96" fill="#7fe2fa"/>
<rect x="287.00" y="371.14" width="7.96" height="7.96" fill="#7fe2fa"/>
<rect x="294.66" y="371.14" width="7.96" height="7.96" fill="#7fe2fa"/>
<rect x="302.32" y="371.14" width="7.96" height="7.96" fill="#7fe2fa"/>
<rect x="309.98" y="371.14" width="7.96" height="7.96" fill="#7fe2fa"/>
<rect x="317.64" y="371.14" width="7.96" height="7.96" fill="#7fe2fa"/>
<rect x="325.30" y="371.14" width="7.96" height="7.96" fill="#7fe2fa"/>
<rect x="332.96" y="371.14" width="7.96" height="7.96" fill="#7fe2fa"/>
<rect x="340.62" y="371.14" width="7.96" height="7.96" fill="#7fe2fa"/>
<rect x="348.28" y="371.14" width="7.96" height="7.96" fill="#7fe2fa"/>
<rect x="355.94" y="371.14" width="7.96" height="7.96" fill="#fcc866"/>
<rect x="363.60" y="371.14" width="7.96" height="7.96" fill="#7fe2fa"/>
<rect x="371.26" y="371.14" width="7.96" height="7.96" fill="#7fe2fa"/>
<rect x="378.92" y="371.14" width="7.96" height="7.96" fill="#fcc866"/>
<rect x="386.58" y="371.14" width="7.96" height="7.96" fill="#fcc866"/>
<rect x="394.24" y="371.14" width="7.96" height="7.96" fill="#7fe2fa"/>
<rect x="401.90" y="371.14" width="7.96" height="7.96" fill="#fcc866"/>
<rect x="248.70" y="378.80" width="7.96" height="7.96" fill="#7fe2fa"/>
<rect x="256.36" y="378.80" width="7.96" height="7.96" fill="#7fe2fa"/>
<rect x="264.02" y="378.80" width="7.96" height="7.96" fill="#7fe2fa"/>
<rect x="271.68" y="378.80" width="7.96" height="7.96" fill="#fcc866"/>
<rect x="279.34" y="378.80" width="7.96" height="7.96" fill="#fcc866"/>
<rect x="287.00" y="378.80" width="7.96" height="7.96" fill="#fcc866"/>
<rect x="294.66" y="378.80" width="7.96" height="7.96" fill="#fcc866"/>
<rect x="302.32" y="378.80" width="7.96" height="7.96" fill="#fcc866"/>
<rect x="309.98" y="378.80" width="7.96" height="7.96" fill="#fcc866"/>
<rect x="317.64" y="378.80" width="7.96" height="7.96" fill="#fcc866"/>
<rect x="325.30" y="378.80" width="7.96" height="7.96" fill="#fcc866"/>
<rect x="332.96" y="378.80" width="7.96" height="7.96" fill="#fcc866"/>
<rect x="340.62" y="378.80" width="7.96" height="7.96" fill="#fcc866"/>
<rect x="348.28" y="378.80" width="7.96" height="7.96" fill="#fcc866"/>
<rect x="355.94" y="378.80" width="7.96" height="7.96" fill="#7fe2fa"/>
<rect x="363.60" y="378.80" width="7.96" height="7.96" fill="#fcc866"/>
<rect x="371.26" y="378.80" width="7.96" height="7.96" fill="#fcc866"/>
<rect x="378.92" y="378.80" width="7.96" height="7.96" fill="#7fe2fa"/>
<rect x="386.58" y="378.80" width="7.96" height="7.96" fill="#7fe2fa"/>
<rect x="394.24" y="378.80" width="7.96" height="7.96" fill="#fcc866"/>
<rect x="401.90" y="378.80" width="7.96" height="7.96" fill="#7fe2fa"/>
</g>
<path d="M248.4,225.6V386.5H409.6" fill="none" stroke="#a8a8a8" stroke-width="1"/>
<text x="328.4" y="219.8" font-size="10.2" text-anchor="middle" fill="#231f20"><tspan font-style="italic">N</tspan> = 1, <tspan font-style="italic">n</tspan> = 6</text>
<g shape-rendering="crispEdges">
<rect x="436.90" y="224.90" width="7.94" height="7.94" fill="#78e2fa"/>
<rect x="444.54" y="224.90" width="7.94" height="7.94" fill="#78e2fa"/>
<rect x="452.18" y="224.90" width="7.94" height="7.94" fill="#72d4f4"/>
<rect x="459.82" y="224.90" width="7.94" height="7.94" fill="#547ec4"/>
<rect x="467.46" y="224.90" width="7.94" height="7.94" fill="#e69c52"/>
<rect x="475.10" y="224.90" width="7.94" height="7.94" fill="#ac5c3c"/>
<rect x="482.74" y="224.90" width="7.94" height="7.94" fill="#70ccf2"/>
<rect x="490.38" y="224.90" width="7.94" height="7.94" fill="#61a4dc"/>
<rect x="498.02" y="224.90" width="7.94" height="7.94" fill="#465096"/>
<rect x="505.66" y="224.90" width="7.94" height="7.94" fill="#efb05c"/>
<rect x="513.30" y="224.90" width="7.94" height="7.94" fill="#e69c52"/>
<rect x="520.94" y="224.90" width="7.94" height="7.94" fill="#5b2a44"/>
<rect x="528.58" y="224.90" width="7.94" height="7.94" fill="#da8f4e"/>
<rect x="536.22" y="224.90" width="7.94" height="7.94" fill="#b86940"/>
<rect x="543.86" y="224.90" width="7.94" height="7.94" fill="#66b1e4"/>
<rect x="551.50" y="224.90" width="7.94" height="7.94" fill="#a1543c"/>
<rect x="559.14" y="224.90" width="7.94" height="7.94" fill="#c37645"/>
<rect x="566.78" y="224.90" width="7.94" height="7.94" fill="#c37645"/>
<rect x="574.42" y="224.90" width="7.94" height="7.94" fill="#5d98d4"/>
<rect x="582.06" y="224.90" width="7.94" height="7.94" fill="#ac5c3c"/>
<rect x="589.70" y="224.90" width="7.94" height="7.94" fill="#b86940"/>
<rect x="436.90" y="232.54" width="7.94" height="7.94" fill="#78e2fa"/>
<rect x="444.54" y="232.54" width="7.94" height="7.94" fill="#78e2fa"/>
<rect x="452.18" y="232.54" width="7.94" height="7.94" fill="#70ccf2"/>
<rect x="459.82" y="232.54" width="7.94" height="7.94" fill="#547ec4"/>
<rect x="467.46" y="232.54" width="7.94" height="7.94" fill="#e69c52"/>
<rect x="475.10" y="232.54" width="7.94" height="7.94" fill="#b86940"/>
<rect x="482.74" y="232.54" width="7.94" height="7.94" fill="#70ccf2"/>
<rect x="490.38" y="232.54" width="7.94" height="7.94" fill="#61a4dc"/>
<rect x="498.02" y="232.54" width="7.94" height="7.94" fill="#48589e"/>
<rect x="505.66" y="232.54" width="7.94" height="7.94" fill="#efb05c"/>
<rect x="513.30" y="232.54" width="7.94" height="7.94" fill="#eaa657"/>
<rect x="520.94" y="232.54" width="7.94" height="7.94" fill="#532747"/>
<rect x="528.58" y="232.54" width="7.94" height="7.94" fill="#da8f4e"/>
<rect x="536.22" y="232.54" width="7.94" height="7.94" fill="#ac5c3c"/>
<rect x="543.86" y="232.54" width="7.94" height="7.94" fill="#66b1e4"/>
<rect x="551.50" y="232.54" width="7.94" height="7.94" fill="#964b3b"/>
<rect x="559.14" y="232.54" width="7.94" height="7.94" fill="#c37645"/>
<rect x="566.78" y="232.54" width="7.94" height="7.94" fill="#ac5c3c"/>
<rect x="574.42" y="232.54" width="7.94" height="7.94" fill="#5d98d4"/>
<rect x="582.06" y="232.54" width="7.94" height="7.94" fill="#ac5c3c"/>
<rect x="589.70" y="232.54" width="7.94" height="7.94" fill="#ac5c3c"/>
<rect x="436.90" y="240.18" width="7.94" height="7.94" fill="#72d4f4"/>
<rect x="444.54" y="240.18" width="7.94" height="7.94" fill="#70ccf2"/>
<rect x="452.18" y="240.18" width="7.94" height="7.94" fill="#78e2fa"/>
<rect x="459.82" y="240.18" width="7.94" height="7.94" fill="#423978"/>
<rect x="467.46" y="240.18" width="7.94" height="7.94" fill="#e69c52"/>
<rect x="475.10" y="240.18" width="7.94" height="7.94" fill="#c37645"/>
<rect x="482.74" y="240.18" width="7.94" height="7.94" fill="#72d4f4"/>
<rect x="490.38" y="240.18" width="7.94" height="7.94" fill="#6dc5ef"/>
<rect x="498.02" y="240.18" width="7.94" height="7.94" fill="#5071b7"/>
<rect x="505.66" y="240.18" width="7.94" height="7.94" fill="#e69c52"/>
<rect x="513.30" y="240.18" width="7.94" height="7.94" fill="#eaa657"/>
<rect x="520.94" y="240.18" width="7.94" height="7.94" fill="#403e84"/>
<rect x="528.58" y="240.18" width="7.94" height="7.94" fill="#c37645"/>
<rect x="536.22" y="240.18" width="7.94" height="7.94" fill="#803a3a"/>
<rect x="543.86" y="240.18" width="7.94" height="7.94" fill="#5d98d4"/>
<rect x="551.50" y="240.18" width="7.94" height="7.94" fill="#5b2a44"/>
<rect x="559.14" y="240.18" width="7.94" height="7.94" fill="#cf8249"/>
<rect x="566.78" y="240.18" width="7.94" height="7.94" fill="#75323a"/>
<rect x="574.42" y="240.18" width="7.94" height="7.94" fill="#547ec4"/>
<rect x="582.06" y="240.18" width="7.94" height="7.94" fill="#ac5c3c"/>
<rect x="589.70" y="240.18" width="7.94" height="7.94" fill="#803a3a"/>
<rect x="436.90" y="247.82" width="7.94" height="7.94" fill="#547ec4"/>
<rect x="444.54" y="247.82" width="7.94" height="7.94" fill="#547ec4"/>
<rect x="452.18" y="247.82" width="7.94" height="7.94" fill="#423978"/>
<rect x="459.82" y="247.82" width="7.94" height="7.94" fill="#78e2fa"/>
<rect x="467.46" y="247.82" width="7.94" height="7.94" fill="#ac5c3c"/>
<rect x="475.10" y="247.82" width="7.94" height="7.94" fill="#444b91"/>
<rect x="482.74" y="247.82" width="7.94" height="7.94" fill="#444b91"/>
<rect x="490.38" y="247.82" width="7.94" height="7.94" fill="#642c40"/>
<rect x="498.02" y="247.82" width="7.94" height="7.94" fill="#453066"/>
<rect x="505.66" y="247.82" width="7.94" height="7.94" fill="#cf8249"/>
<rect x="513.30" y="247.82" width="7.94" height="7.94" fill="#ac5c3c"/>
<rect x="520.94" y="247.82" width="7.94" height="7.94" fill="#75323a"/>
<rect x="528.58" y="247.82" width="7.94" height="7.94" fill="#cf8249"/>
<rect x="536.22" y="247.82" width="7.94" height="7.94" fill="#ac5c3c"/>
<rect x="543.86" y="247.82" width="7.94" height="7.94" fill="#61a4dc"/>
<rect x="551.50" y="247.82" width="7.94" height="7.94" fill="#a1543c"/>
<rect x="559.14" y="247.82" width="7.94" height="7.94" fill="#b86940"/>
<rect x="566.78" y="247.82" width="7.94" height="7.94" fill="#c37645"/>
<rect x="574.42" y="247.82" width="7.94" height="7.94" fill="#5d98d4"/>
<rect x="582.06" y="247.82" width="7.94" height="7.94" fill="#b86940"/>
<rect x="589.70" y="247.82" width="7.94" height="7.94" fill="#b86940"/>
<rect x="436.90" y="255.46" width="7.94" height="7.94" fill="#e69c52"/>
<rect x="444.54" y="255.46" width="7.94" height="7.94" fill="#e69c52"/>
<rect x="452.18" y="255.46" width="7.94" height="7.94" fill="#e69c52"/>
<rect x="459.82" y="255.46" width="7.94" height="7.94" fill="#ac5c3c"/>
<rect x="467.46" y="255.46" width="7.94" height="7.94" fill="#78e2fa"/>
<rect x="475.10" y="255.46" width="7.94" height="7.94" fill="#5d98d4"/>
<rect x="482.74" y="255.46" width="7.94" height="7.94" fill="#da8f4e"/>
<rect x="490.38" y="255.46" width="7.94" height="7.94" fill="#cf8249"/>
<rect x="498.02" y="255.46" width="7.94" height="7.94" fill="#c37645"/>
<rect x="505.66" y="255.46" width="7.94" height="7.94" fill="#75dbf7"/>
<rect x="513.30" y="255.46" width="7.94" height="7.94" fill="#78e2fa"/>
<rect x="520.94" y="255.46" width="7.94" height="7.94" fill="#803a3a"/>
<rect x="528.58" y="255.46" width="7.94" height="7.94" fill="#5d98d4"/>
<rect x="536.22" y="255.46" width="7.94" height="7.94" fill="#444b91"/>
<rect x="543.86" y="255.46" width="7.94" height="7.94" fill="#f6c063"/>
<rect x="551.50" y="255.46" width="7.94" height="7.94" fill="#482956"/>
<rect x="559.14" y="255.46" width="7.94" height="7.94" fill="#6dc5ef"/>
<rect x="566.78" y="255.46" width="7.94" height="7.94" fill="#4c64aa"/>
<rect x="574.42" y="255.46" width="7.94" height="7.94" fill="#c37645"/>
<rect x="582.06" y="255.46" width="7.94" height="7.94" fill="#5d98d4"/>
<rect x="589.70" y="255.46" width="7.94" height="7.94" fill="#5071b7"/>
<rect x="436.90" y="263.10" width="7.94" height="7.94" fill="#ac5c3c"/>
<rect x="444.54" y="263.10" width="7.94" height="7.94" fill="#b86940"/>
<rect x="452.18" y="263.10" width="7.94" height="7.94" fill="#c37645"/>
<rect x="459.82" y="263.10" width="7.94" height="7.94" fill="#444b91"/>
<rect x="467.46" y="263.10" width="7.94" height="7.94" fill="#5d98d4"/>
<rect x="475.10" y="263.10" width="7.94" height="7.94" fill="#78e2fa"/>
<rect x="482.74" y="263.10" width="7.94" height="7.94" fill="#ac5c3c"/>
<rect x="490.38" y="263.10" width="7.94" height="7.94" fill="#da8f4e"/>
<rect x="498.02" y="263.10" width="7.94" height="7.94" fill="#cf8249"/>
<rect x="505.66" y="263.10" width="7.94" height="7.94" fill="#465096"/>
<rect x="513.30" y="263.10" width="7.94" height="7.94" fill="#5d98d4"/>
<rect x="520.94" y="263.10" width="7.94" height="7.94" fill="#c37645"/>
<rect x="528.58" y="263.10" width="7.94" height="7.94" fill="#532747"/>
<rect x="536.22" y="263.10" width="7.94" height="7.94" fill="#a1543c"/>
<rect x="543.86" y="263.10" width="7.94" height="7.94" fill="#803a3a"/>
<rect x="551.50" y="263.10" width="7.94" height="7.94" fill="#c37645"/>
<rect x="559.14" y="263.10" width="7.94" height="7.94" fill="#5d98d4"/>
<rect x="566.78" y="263.10" width="7.94" height="7.94" fill="#ac5c3c"/>
<rect x="574.42" y="263.10" width="7.94" height="7.94" fill="#403e84"/>
<rect x="582.06" y="263.10" width="7.94" height="7.94" fill="#444b91"/>
<rect x="589.70" y="263.10" width="7.94" height="7.94" fill="#803a3a"/>
<rect x="436.90" y="270.74" width="7.94" height="7.94" fill="#70ccf2"/>
<rect x="444.54" y="270.74" width="7.94" height="7.94" fill="#70ccf2"/>
<rect x="452.18" y="270.74" width="7.94" height="7.94" fill="#72d4f4"/>
<rect x="459.82" y="270.74" width="7.94" height="7.94" fill="#444b91"/>
<rect x="467.46" y="270.74" width="7.94" height="7.94" fill="#da8f4e"/>
<rect x="475.10" y="270.74" width="7.94" height="7.94" fill="#ac5c3c"/>
<rect x="482.74" y="270.74" width="7.94" height="7.94" fill="#78e2fa"/>
<rect x="490.38" y="270.74" width="7.94" height="7.94" fill="#66b1e4"/>
<rect x="498.02" y="270.74" width="7.94" height="7.94" fill="#444b91"/>
<rect x="505.66" y="270.74" width="7.94" height="7.94" fill="#da8f4e"/>
<rect x="513.30" y="270.74" width="7.94" height="7.94" fill="#da8f4e"/>
<rect x="520.94" y="270.74" width="7.94" height="7.94" fill="#4a244a"/>
<rect x="528.58" y="270.74" width="7.94" height="7.94" fill="#cf8249"/>
<rect x="536.22" y="270.74" width="7.94" height="7.94" fill="#ac5c3c"/>
<rect x="543.86" y="270.74" width="7.94" height="7.94" fill="#61a4dc"/>
<rect x="551.50" y="270.74" width="7.94" height="7.94" fill="#8b433b"/>
<rect x="559.14" y="270.74" width="7.94" height="7.94" fill="#b86940"/>
<rect x="566.78" y="270.74" width="7.94" height="7.94" fill="#ac5c3c"/>
<rect x="574.42" y="270.74" width="7.94" height="7.94" fill="#5b92d1"/>
<rect x="582.06" y="270.74" width="7.94" height="7.94" fill="#8b433b"/>
<rect x="589.70" y="270.74" width="7.94" height="7.94" fill="#a1543c"/>
<rect x="436.90" y="278.38" width="7.94" height="7.94" fill="#61a4dc"/>
<rect x="444.54" y="278.38" width="7.94" height="7.94" fill="#61a4dc"/>
<rect x="452.18" y="278.38" width="7.94" height="7.94" fill="#6dc5ef"/>
<rect x="459.82" y="278.38" width="7.94" height="7.94" fill="#642c40"/>
<rect x="467.46" y="278.38" width="7.94" height="7.94" fill="#cf8249"/>
<rect x="475.10" y="278.38" width="7.94" height="7.94" fill="#da8f4e"/>
<rect x="482.74" y="278.38" width="7.94" height="7.94" fill="#66b1e4"/>
<rect x="490.38" y="278.38" width="7.94" height="7.94" fill="#78e2fa"/>
<rect x="498.02" y="278.38" width="7.94" height="7.94" fill="#61a4dc"/>
<rect x="505.66" y="278.38" width="7.94" height="7.94" fill="#ac5c3c"/>
<rect x="513.30" y="278.38" width="7.94" height="7.94" fill="#c37645"/>
<rect x="520.94" y="278.38" width="7.94" height="7.94" fill="#5d98d4"/>
<rect x="528.58" y="278.38" width="7.94" height="7.94" fill="#6c2f3d"/>
<rect x="536.22" y="278.38" width="7.94" height="7.94" fill="#4c64aa"/>
<rect x="543.86" y="278.38" width="7.94" height="7.94" fill="#444b91"/>
<rect x="551.50" y="278.38" width="7.94" height="7.94" fill="#4c64aa"/>
<rect x="559.14" y="278.38" width="7.94" height="7.94" fill="#b86940"/>
<rect x="566.78" y="278.38" width="7.94" height="7.94" fill="#444b91"/>
<rect x="574.42" y="278.38" width="7.94" height="7.94" fill="#5b2a44"/>
<rect x="582.06" y="278.38" width="7.94" height="7.94" fill="#532747"/>
<rect x="589.70" y="278.38" width="7.94" height="7.94" fill="#444b91"/>
<rect x="436.90" y="286.02" width="7.94" height="7.94" fill="#465096"/>
<rect x="444.54" y="286.02" width="7.94" height="7.94" fill="#48589e"/>
<rect x="452.18" y="286.02" width="7.94" height="7.94" fill="#5071b7"/>
<rect x="459.82" y="286.02" width="7.94" height="7.94" fill="#453066"/>
<rect x="467.46" y="286.02" width="7.94" height="7.94" fill="#c37645"/>
<rect x="475.10" y="286.02" width="7.94" height="7.94" fill="#cf8249"/>
<rect x="482.74" y="286.02" width="7.94" height="7.94" fill="#444b91"/>
<rect x="490.38" y="286.02" width="7.94" height="7.94" fill="#61a4dc"/>
<rect x="498.02" y="286.02" width="7.94" height="7.94" fill="#78e2fa"/>
<rect x="505.66" y="286.02" width="7.94" height="7.94" fill="#8b433b"/>
<rect x="513.30" y="286.02" width="7.94" height="7.94" fill="#c37645"/>
<rect x="520.94" y="286.02" width="7.94" height="7.94" fill="#6abeec"/>
<rect x="528.58" y="286.02" width="7.94" height="7.94" fill="#462e61"/>
<rect x="536.22" y="286.02" width="7.94" height="7.94" fill="#5d98d4"/>
<rect x="543.86" y="286.02" width="7.94" height="7.94" fill="#48589e"/>
<rect x="551.50" y="286.02" width="7.94" height="7.94" fill="#5d98d4"/>
<rect x="559.14" y="286.02" width="7.94" height="7.94" fill="#cf8249"/>
<rect x="566.78" y="286.02" width="7.94" height="7.94" fill="#5071b7"/>
<rect x="574.42" y="286.02" width="7.94" height="7.94" fill="#a1543c"/>
<rect x="582.06" y="286.02" width="7.94" height="7.94" fill="#5b2a44"/>
<rect x="589.70" y="286.02" width="7.94" height="7.94" fill="#5071b7"/>
<rect x="436.90" y="293.66" width="7.94" height="7.94" fill="#efb05c"/>
<rect x="444.54" y="293.66" width="7.94" height="7.94" fill="#efb05c"/>
<rect x="452.18" y="293.66" width="7.94" height="7.94" fill="#e69c52"/>
<rect x="459.82" y="293.66" width="7.94" height="7.94" fill="#cf8249"/>
<rect x="467.46" y="293.66" width="7.94" height="7.94" fill="#75dbf7"/>
<rect x="475.10" y="293.66" width="7.94" height="7.94" fill="#465096"/>
<rect x="482.74" y="293.66" width="7.94" height="7.94" fill="#da8f4e"/>
<rect x="490.38" y="293.66" width="7.94" height="7.94" fill="#ac5c3c"/>
<rect x="498.02" y="293.66" width="7.94" height="7.94" fill="#8b433b"/>
<rect x="505.66" y="293.66" width="7.94" height="7.94" fill="#78e2fa"/>
<rect x="513.30" y="293.66" width="7.94" height="7.94" fill="#6dc5ef"/>
<rect x="520.94" y="293.66" width="7.94" height="7.94" fill="#44346d"/>
<rect x="528.58" y="293.66" width="7.94" height="7.94" fill="#6dc5ef"/>
<rect x="536.22" y="293.66" width="7.94" height="7.94" fill="#547ec4"/>
<rect x="543.86" y="293.66" width="7.94" height="7.94" fill="#f5be62"/>
<rect x="551.50" y="293.66" width="7.94" height="7.94" fill="#5071b7"/>
<rect x="559.14" y="293.66" width="7.94" height="7.94" fill="#5d98d4"/>
<rect x="566.78" y="293.66" width="7.94" height="7.94" fill="#5d98d4"/>
<rect x="574.42" y="293.66" width="7.94" height="7.94" fill="#da8f4e"/>
<rect x="582.06" y="293.66" width="7.94" height="7.94" fill="#5d98d4"/>
<rect x="589.70" y="293.66" width="7.94" height="7.94" fill="#5d98d4"/>
<rect x="436.90" y="301.30" width="7.94" height="7.94" fill="#e69c52"/>
<rect x="444.54" y="301.30" width="7.94" height="7.94" fill="#eaa657"/>
<rect x="452.18" y="301.30" width="7.94" height="7.94" fill="#eaa657"/>
<rect x="459.82" y="301.30" width="7.94" height="7.94" fill="#ac5c3c"/>
<rect x="467.46" y="301.30" width="7.94" height="7.94" fill="#78e2fa"/>
<rect x="475.10" y="301.30" width="7.94" height="7.94" fill="#5d98d4"/>
<rect x="482.74" y="301.30" width="7.94" height="7.94" fill="#da8f4e"/>
<rect x="490.38" y="301.30" width="7.94" height="7.94" fill="#c37645"/>
<rect x="498.02" y="301.30" width="7.94" height="7.94" fill="#c37645"/>
<rect x="505.66" y="301.30" width="7.94" height="7.94" fill="#6dc5ef"/>
<rect x="513.30" y="301.30" width="7.94" height="7.94" fill="#78e2fa"/>
<rect x="520.94" y="301.30" width="7.94" height="7.94" fill="#803a3a"/>
<rect x="528.58" y="301.30" width="7.94" height="7.94" fill="#5d98d4"/>
<rect x="536.22" y="301.30" width="7.94" height="7.94" fill="#44346d"/>
<rect x="543.86" y="301.30" width="7.94" height="7.94" fill="#f1b65e"/>
<rect x="551.50" y="301.30" width="7.94" height="7.94" fill="#4a244a"/>
<rect x="559.14" y="301.30" width="7.94" height="7.94" fill="#6dc5ef"/>
<rect x="566.78" y="301.30" width="7.94" height="7.94" fill="#444b91"/>
<rect x="574.42" y="301.30" width="7.94" height="7.94" fill="#ac5c3c"/>
<rect x="582.06" y="301.30" width="7.94" height="7.94" fill="#5d98d4"/>
<rect x="589.70" y="301.30" width="7.94" height="7.94" fill="#4c64aa"/>
<rect x="436.90" y="308.94" width="7.94" height="7.94" fill="#5b2a44"/>
<rect x="444.54" y="308.94" width="7.94" height="7.94" fill="#532747"/>
<rect x="452.18" y="308.94" width="7.94" height="7.94" fill="#403e84"/>
<rect x="459.82" y="308.94" width="7.94" height="7.94" fill="#75323a"/>
<rect x="467.46" y="308.94" width="7.94" height="7.94" fill="#803a3a"/>
<rect x="475.10" y="308.94" width="7.94" height="7.94" fill="#c37645"/>
<rect x="482.74" y="308.94" width="7.94" height="7.94" fill="#4a244a"/>
<rect x="490.38" y="308.94" width="7.94" height="7.94" fill="#5d98d4"/>
<rect x="498.02" y="308.94" width="7.94" height="7.94" fill="#6abeec"/>
<rect x="505.66" y="308.94" width="7.94" height="7.94" fill="#44346d"/>
<rect x="513.30" y="308.94" width="7.94" height="7.94" fill="#803a3a"/>
<rect x="520.94" y="308.94" width="7.94" height="7.94" fill="#78e2fa"/>
<rect x="528.58" y="308.94" width="7.94" height="7.94" fill="#5071b7"/>
<rect x="536.22" y="308.94" width="7.94" height="7.94" fill="#66b1e4"/>
<rect x="543.86" y="308.94" width="7.94" height="7.94" fill="#5b2a44"/>
<rect x="551.50" y="308.94" width="7.94" height="7.94" fill="#6dc5ef"/>
<rect x="559.14" y="308.94" width="7.94" height="7.94" fill="#ac5c3c"/>
<rect x="566.78" y="308.94" width="7.94" height="7.94" fill="#61a4dc"/>
<rect x="574.42" y="308.94" width="7.94" height="7.94" fill="#cf8249"/>
<rect x="582.06" y="308.94" width="7.94" height="7.94" fill="#423978"/>
<rect x="589.70" y="308.94" width="7.94" height="7.94" fill="#61a4dc"/>
<rect x="436.90" y="316.58" width="7.94" height="7.94" fill="#da8f4e"/>
<rect x="444.54" y="316.58" width="7.94" height="7.94" fill="#da8f4e"/>
<rect x="452.18" y="316.58" width="7.94" height="7.94" fill="#c37645"/>
<rect x="459.82" y="316.58" width="7.94" height="7.94" fill="#cf8249"/>
<rect x="467.46" y="316.58" width="7.94" height="7.94" fill="#5d98d4"/>
<rect x="475.10" y="316.58" width="7.94" height="7.94" fill="#532747"/>
<rect x="482.74" y="316.58" width="7.94" height="7.94" fill="#cf8249"/>
<rect x="490.38" y="316.58" width="7.94" height="7.94" fill="#6c2f3d"/>
<rect x="498.02" y="316.58" width="7.94" height="7.94" fill="#462e61"/>
<rect x="505.66" y="316.58" width="7.94" height="7.94" fill="#6dc5ef"/>
<rect x="513.30" y="316.58" width="7.94" height="7.94" fill="#5d98d4"/>
<rect x="520.94" y="316.58" width="7.94" height="7.94" fill="#5071b7"/>
<rect x="528.58" y="316.58" width="7.94" height="7.94" fill="#78e2fa"/>
<rect x="536.22" y="316.58" width="7.94" height="7.94" fill="#61a4dc"/>
<rect x="543.86" y="316.58" width="7.94" height="7.94" fill="#e69c52"/>
<rect x="551.50" y="316.58" width="7.94" height="7.94" fill="#5d98d4"/>
<rect x="559.14" y="316.58" width="7.94" height="7.94" fill="#5071b7"/>
<rect x="566.78" y="316.58" width="7.94" height="7.94" fill="#66b1e4"/>
<rect x="574.42" y="316.58" width="7.94" height="7.94" fill="#f5be62"/>
<rect x="582.06" y="316.58" width="7.94" height="7.94" fill="#5d98d4"/>
<rect x="589.70" y="316.58" width="7.94" height="7.94" fill="#6abeec"/>
<rect x="436.90" y="324.22" width="7.94" height="7.94" fill="#b86940"/>
<rect x="444.54" y="324.22" width="7.94" height="7.94" fill="#ac5c3c"/>
<rect x="452.18" y="324.22" width="7.94" height="7.94" fill="#803a3a"/>
<rect x="459.82" y="324.22" width="7.94" height="7.94" fill="#ac5c3c"/>
<rect x="467.46" y="324.22" width="7.94" height="7.94" fill="#444b91"/>
<rect x="475.10" y="324.22" width="7.94" height="7.94" fill="#a1543c"/>
<rect x="482.74" y="324.22" width="7.94" height="7.94" fill="#ac5c3c"/>
<rect x="490.38" y="324.22" width="7.94" height="7.94" fill="#4c64aa"/>
<rect x="498.02" y="324.22" width="7.94" height="7.94" fill="#5d98d4"/>
<rect x="505.66" y="324.22" width="7.94" height="7.94" fill="#547ec4"/>
<rect x="513.30" y="324.22" width="7.94" height="7.94" fill="#44346d"/>
<rect x="520.94" y="324.22" width="7.94" height="7.94" fill="#66b1e4"/>
<rect x="528.58" y="324.22" width="7.94" height="7.94" fill="#61a4dc"/>
<rect x="536.22" y="324.22" width="7.94" height="7.94" fill="#78e2fa"/>
<rect x="543.86" y="324.22" width="7.94" height="7.94" fill="#ac5c3c"/>
<rect x="551.50" y="324.22" width="7.94" height="7.94" fill="#70ccf2"/>
<rect x="559.14" y="324.22" width="7.94" height="7.94" fill="#5b2a44"/>
<rect x="566.78" y="324.22" width="7.94" height="7.94" fill="#72d4f4"/>
<rect x="574.42" y="324.22" width="7.94" height="7.94" fill="#f1b65e"/>
<rect x="582.06" y="324.22" width="7.94" height="7.94" fill="#5071b7"/>
<rect x="589.70" y="324.22" width="7.94" height="7.94" fill="#6abeec"/>
<rect x="436.90" y="331.86" width="7.94" height="7.94" fill="#66b1e4"/>
<rect x="444.54" y="331.86" width="7.94" height="7.94" fill="#66b1e4"/>
<rect x="452.18" y="331.86" width="7.94" height="7.94" fill="#5d98d4"/>
<rect x="459.82" y="331.86" width="7.94" height="7.94" fill="#61a4dc"/>
<rect x="467.46" y="331.86" width="7.94" height="7.94" fill="#f6c063"/>
<rect x="475.10" y="331.86" width="7.94" height="7.94" fill="#803a3a"/>
<rect x="482.74" y="331.86" width="7.94" height="7.94" fill="#61a4dc"/>
<rect x="490.38" y="331.86" width="7.94" height="7.94" fill="#444b91"/>
<rect x="498.02" y="331.86" width="7.94" height="7.94" fill="#48589e"/>
<rect x="505.66" y="331.86" width="7.94" height="7.94" fill="#f5be62"/>
<rect x="513.30" y="331.86" width="7.94" height="7.94" fill="#f1b65e"/>
<rect x="520.94" y="331.86" width="7.94" height="7.94" fill="#5b2a44"/>
<rect x="528.58" y="331.86" width="7.94" height="7.94" fill="#e69c52"/>
<rect x="536.22" y="331.86" width="7.94" height="7.94" fill="#ac5c3c"/>
<rect x="543.86" y="331.86" width="7.94" height="7.94" fill="#78e2fa"/>
<rect x="551.50" y="331.86" width="7.94" height="7.94" fill="#a1543c"/>
<rect x="559.14" y="331.86" width="7.94" height="7.94" fill="#cf8249"/>
<rect x="566.78" y="331.86" width="7.94" height="7.94" fill="#c37645"/>
<rect x="574.42" y="331.86" width="7.94" height="7.94" fill="#5d98d4"/>
<rect x="582.06" y="331.86" width="7.94" height="7.94" fill="#cf8249"/>
<rect x="589.70" y="331.86" width="7.94" height="7.94" fill="#c37645"/>
<rect x="436.90" y="339.50" width="7.94" height="7.94" fill="#a1543c"/>
<rect x="444.54" y="339.50" width="7.94" height="7.94" fill="#964b3b"/>
<rect x="452.18" y="339.50" width="7.94" height="7.94" fill="#5b2a44"/>
<rect x="459.82" y="339.50" width="7.94" height="7.94" fill="#a1543c"/>
<rect x="467.46" y="339.50" width="7.94" height="7.94" fill="#482956"/>
<rect x="475.10" y="339.50" width="7.94" height="7.94" fill="#c37645"/>
<rect x="482.74" y="339.50" width="7.94" height="7.94" fill="#8b433b"/>
<rect x="490.38" y="339.50" width="7.94" height="7.94" fill="#4c64aa"/>
<rect x="498.02" y="339.50" width="7.94" height="7.94" fill="#5d98d4"/>
<rect x="505.66" y="339.50" width="7.94" height="7.94" fill="#5071b7"/>
<rect x="513.30" y="339.50" width="7.94" height="7.94" fill="#4a244a"/>
<rect x="520.94" y="339.50" width="7.94" height="7.94" fill="#6dc5ef"/>
<rect x="528.58" y="339.50" width="7.94" height="7.94" fill="#5d98d4"/>
<rect x="536.22" y="339.50" width="7.94" height="7.94" fill="#70ccf2"/>
<rect x="543.86" y="339.50" width="7.94" height="7.94" fill="#a1543c"/>
<rect x="551.50" y="339.50" width="7.94" height="7.94" fill="#78e2fa"/>
<rect x="559.14" y="339.50" width="7.94" height="7.94" fill="#8b433b"/>
<rect x="566.78" y="339.50" width="7.94" height="7.94" fill="#6dc5ef"/>
<rect x="574.42" y="339.50" width="7.94" height="7.94" fill="#da8f4e"/>
<rect x="582.06" y="339.50" width="7.94" height="7.94" fill="#444b91"/>
<rect x="589.70" y="339.50" width="7.94" height="7.94" fill="#6abeec"/>
<rect x="436.90" y="347.14" width="7.94" height="7.94" fill="#c37645"/>
<rect x="444.54" y="347.14" width="7.94" height="7.94" fill="#c37645"/>
<rect x="452.18" y="347.14" width="7.94" height="7.94" fill="#cf8249"/>
<rect x="459.82" y="347.14" width="7.94" height="7.94" fill="#b86940"/>
<rect x="467.46" y="347.14" width="7.94" height="7.94" fill="#6dc5ef"/>
<rect x="475.10" y="347.14" width="7.94" height="7.94" fill="#5d98d4"/>
<rect x="482.74" y="347.14" width="7.94" height="7.94" fill="#b86940"/>
<rect x="490.38" y="347.14" width="7.94" height="7.94" fill="#b86940"/>
<rect x="498.02" y="347.14" width="7.94" height="7.94" fill="#cf8249"/>
<rect x="505.66" y="347.14" width="7.94" height="7.94" fill="#5d98d4"/>
<rect x="513.30" y="347.14" width="7.94" height="7.94" fill="#6dc5ef"/>
<rect x="520.94" y="347.14" width="7.94" height="7.94" fill="#ac5c3c"/>
<rect x="528.58" y="347.14" width="7.94" height="7.94" fill="#5071b7"/>
<rect x="536.22" y="347.14" width="7.94" height="7.94" fill="#5b2a44"/>
<rect x="543.86" y="347.14" width="7.94" height="7.94" fill="#cf8249"/>
<rect x="551.50" y="347.14" width="7.94" height="7.94" fill="#8b433b"/>
<rect x="559.14" y="347.14" width="7.94" height="7.94" fill="#78e2fa"/>
<rect x="566.78" y="347.14" width="7.94" height="7.94" fill="#532747"/>
<rect x="574.42" y="347.14" width="7.94" height="7.94" fill="#6c2f3d"/>
<rect x="582.06" y="347.14" width="7.94" height="7.94" fill="#5d98d4"/>
<rect x="589.70" y="347.14" width="7.94" height="7.94" fill="#423978"/>
<rect x="436.90" y="354.78" width="7.94" height="7.94" fill="#c37645"/>
<rect x="444.54" y="354.78" width="7.94" height="7.94" fill="#ac5c3c"/>
<rect x="452.18" y="354.78" width="7.94" height="7.94" fill="#75323a"/>
<rect x="459.82" y="354.78" width="7.94" height="7.94" fill="#c37645"/>
<rect x="467.46" y="354.78" width="7.94" height="7.94" fill="#4c64aa"/>
<rect x="475.10" y="354.78" width="7.94" height="7.94" fill="#ac5c3c"/>
<rect x="482.74" y="354.78" width="7.94" height="7.94" fill="#ac5c3c"/>
<rect x="490.38" y="354.78" width="7.94" height="7.94" fill="#444b91"/>
<rect x="498.02" y="354.78" width="7.94" height="7.94" fill="#5071b7"/>
<rect x="505.66" y="354.78" width="7.94" height="7.94" fill="#5d98d4"/>
<rect x="513.30" y="354.78" width="7.94" height="7.94" fill="#444b91"/>
<rect x="520.94" y="354.78" width="7.94" height="7.94" fill="#61a4dc"/>
<rect x="528.58" y="354.78" width="7.94" height="7.94" fill="#66b1e4"/>
<rect x="536.22" y="354.78" width="7.94" height="7.94" fill="#72d4f4"/>
<rect x="543.86" y="354.78" width="7.94" height="7.94" fill="#c37645"/>
<rect x="551.50" y="354.78" width="7.94" height="7.94" fill="#6dc5ef"/>
<rect x="559.14" y="354.78" width="7.94" height="7.94" fill="#532747"/>
<rect x="566.78" y="354.78" width="7.94" height="7.94" fill="#78e2fa"/>
<rect x="574.42" y="354.78" width="7.94" height="7.94" fill="#f8c465"/>
<rect x="582.06" y="354.78" width="7.94" height="7.94" fill="#5071b7"/>
<rect x="589.70" y="354.78" width="7.94" height="7.94" fill="#6abeec"/>
<rect x="436.90" y="362.42" width="7.94" height="7.94" fill="#5d98d4"/>
<rect x="444.54" y="362.42" width="7.94" height="7.94" fill="#5d98d4"/>
<rect x="452.18" y="362.42" width="7.94" height="7.94" fill="#547ec4"/>
<rect x="459.82" y="362.42" width="7.94" height="7.94" fill="#5d98d4"/>
<rect x="467.46" y="362.42" width="7.94" height="7.94" fill="#c37645"/>
<rect x="475.10" y="362.42" width="7.94" height="7.94" fill="#403e84"/>
<rect x="482.74" y="362.42" width="7.94" height="7.94" fill="#5b92d1"/>
<rect x="490.38" y="362.42" width="7.94" height="7.94" fill="#5b2a44"/>
<rect x="498.02" y="362.42" width="7.94" height="7.94" fill="#a1543c"/>
<rect x="505.66" y="362.42" width="7.94" height="7.94" fill="#da8f4e"/>
<rect x="513.30" y="362.42" width="7.94" height="7.94" fill="#ac5c3c"/>
<rect x="520.94" y="362.42" width="7.94" height="7.94" fill="#cf8249"/>
<rect x="528.58" y="362.42" width="7.94" height="7.94" fill="#f5be62"/>
<rect x="536.22" y="362.42" width="7.94" height="7.94" fill="#f1b65e"/>
<rect x="543.86" y="362.42" width="7.94" height="7.94" fill="#5d98d4"/>
<rect x="551.50" y="362.42" width="7.94" height="7.94" fill="#da8f4e"/>
<rect x="559.14" y="362.42" width="7.94" height="7.94" fill="#6c2f3d"/>
<rect x="566.78" y="362.42" width="7.94" height="7.94" fill="#f8c465"/>
<rect x="574.42" y="362.42" width="7.94" height="7.94" fill="#78e2fa"/>
<rect x="582.06" y="362.42" width="7.94" height="7.94" fill="#b86940"/>
<rect x="589.70" y="362.42" width="7.94" height="7.94" fill="#e69c52"/>
<rect x="436.90" y="370.06" width="7.94" height="7.94" fill="#ac5c3c"/>
<rect x="444.54" y="370.06" width="7.94" height="7.94" fill="#ac5c3c"/>
<rect x="452.18" y="370.06" width="7.94" height="7.94" fill="#ac5c3c"/>
<rect x="459.82" y="370.06" width="7.94" height="7.94" fill="#b86940"/>
<rect x="467.46" y="370.06" width="7.94" height="7.94" fill="#5d98d4"/>
<rect x="475.10" y="370.06" width="7.94" height="7.94" fill="#444b91"/>
<rect x="482.74" y="370.06" width="7.94" height="7.94" fill="#8b433b"/>
<rect x="490.38" y="370.06" width="7.94" height="7.94" fill="#532747"/>
<rect x="498.02" y="370.06" width="7.94" height="7.94" fill="#5b2a44"/>
<rect x="505.66" y="370.06" width="7.94" height="7.94" fill="#5d98d4"/>
<rect x="513.30" y="370.06" width="7.94" height="7.94" fill="#5d98d4"/>
<rect x="520.94" y="370.06" width="7.94" height="7.94" fill="#423978"/>
<rect x="528.58" y="370.06" width="7.94" height="7.94" fill="#5d98d4"/>
<rect x="536.22" y="370.06" width="7.94" height="7.94" fill="#5071b7"/>
<rect x="543.86" y="370.06" width="7.94" height="7.94" fill="#cf8249"/>
<rect x="551.50" y="370.06" width="7.94" height="7.94" fill="#444b91"/>
<rect x="559.14" y="370.06" width="7.94" height="7.94" fill="#5d98d4"/>
<rect x="566.78" y="370.06" width="7.94" height="7.94" fill="#5071b7"/>
<rect x="574.42" y="370.06" width="7.94" height="7.94" fill="#b86940"/>
<rect x="582.06" y="370.06" width="7.94" height="7.94" fill="#78e2fa"/>
<rect x="589.70" y="370.06" width="7.94" height="7.94" fill="#5d98d4"/>
<rect x="436.90" y="377.70" width="7.94" height="7.94" fill="#b86940"/>
<rect x="444.54" y="377.70" width="7.94" height="7.94" fill="#ac5c3c"/>
<rect x="452.18" y="377.70" width="7.94" height="7.94" fill="#803a3a"/>
<rect x="459.82" y="377.70" width="7.94" height="7.94" fill="#b86940"/>
<rect x="467.46" y="377.70" width="7.94" height="7.94" fill="#5071b7"/>
<rect x="475.10" y="377.70" width="7.94" height="7.94" fill="#803a3a"/>
<rect x="482.74" y="377.70" width="7.94" height="7.94" fill="#a1543c"/>
<rect x="490.38" y="377.70" width="7.94" height="7.94" fill="#444b91"/>
<rect x="498.02" y="377.70" width="7.94" height="7.94" fill="#5071b7"/>
<rect x="505.66" y="377.70" width="7.94" height="7.94" fill="#5d98d4"/>
<rect x="513.30" y="377.70" width="7.94" height="7.94" fill="#4c64aa"/>
<rect x="520.94" y="377.70" width="7.94" height="7.94" fill="#61a4dc"/>
<rect x="528.58" y="377.70" width="7.94" height="7.94" fill="#6abeec"/>
<rect x="536.22" y="377.70" width="7.94" height="7.94" fill="#6abeec"/>
<rect x="543.86" y="377.70" width="7.94" height="7.94" fill="#c37645"/>
<rect x="551.50" y="377.70" width="7.94" height="7.94" fill="#6abeec"/>
<rect x="559.14" y="377.70" width="7.94" height="7.94" fill="#423978"/>
<rect x="566.78" y="377.70" width="7.94" height="7.94" fill="#6abeec"/>
<rect x="574.42" y="377.70" width="7.94" height="7.94" fill="#e69c52"/>
<rect x="582.06" y="377.70" width="7.94" height="7.94" fill="#5d98d4"/>
<rect x="589.70" y="377.70" width="7.94" height="7.94" fill="#78e2fa"/>
</g>
<path d="M436.6,224.9V385.6H597.3" fill="none" stroke="#b0b0b0" stroke-width="0.8"/>
<text x="424" y="217.5" font-size="14" font-weight="bold" fill="#000">d</text>
<text x="517.2" y="219.8" font-size="10.2" text-anchor="middle" fill="#231f20"><tspan font-style="italic">N</tspan> = 5, <tspan font-style="italic">n</tspan> = 6</text>
<text x="321.2" y="396.2" font-size="11" font-style="italic" fill="#231f20">σ<tspan font-size="7.2" dy="3.2">qq</tspan></text>
<text x="509.6" y="396.2" font-size="11" font-style="italic" fill="#231f20">σ<tspan font-size="7.2" dy="3.2">qq</tspan></text>
<text transform="translate(241.9 313.8) rotate(-90)" font-size="11" font-style="italic" fill="#231f20">σ<tspan font-size="7.2" dy="3.2">qq</tspan></text>
<text transform="translate(430.0 313.8) rotate(-90)" font-size="11" font-style="italic" fill="#231f20">σ<tspan font-size="7.2" dy="3.2">qq</tspan></text>
<defs><linearGradient id="cb" x1="0" y1="1" x2="0" y2="0">
<stop offset="0.000" stop-color="rgb(252,206,106)"/>
<stop offset="0.125" stop-color="rgb(230,156,82)"/>
<stop offset="0.250" stop-color="rgb(172,92,60)"/>
<stop offset="0.375" stop-color="rgb(117,50,58)"/>
<stop offset="0.500" stop-color="rgb(74,36,74)"/>
<stop offset="0.625" stop-color="rgb(64,62,132)"/>
<stop offset="0.750" stop-color="rgb(84,126,196)"/>
<stop offset="0.875" stop-color="rgb(106,190,236)"/>
<stop offset="1.000" stop-color="rgb(120,226,250)"/>
</linearGradient></defs>
<rect x="630.4" y="226.0" width="8" height="159.6" fill="url(#cb)" stroke="#888" stroke-width="0.8"/>
<line x1="638.4" y1="226.0" x2="641.7" y2="226.0" stroke="#555555" stroke-width="1"/>
<text x="646.4" y="229.2" font-size="8.9" fill="#231f20">1.00</text>
<line x1="638.4" y1="245.9" x2="641.7" y2="245.9" stroke="#555555" stroke-width="1"/>
<text x="646.4" y="249.1" font-size="8.9" fill="#231f20">0.75</text>
<line x1="638.4" y1="265.9" x2="641.7" y2="265.9" stroke="#555555" stroke-width="1"/>
<text x="646.4" y="269.1" font-size="8.9" fill="#231f20">0.50</text>
<line x1="638.4" y1="285.9" x2="641.7" y2="285.9" stroke="#555555" stroke-width="1"/>
<text x="646.4" y="289.1" font-size="8.9" fill="#231f20">0.25</text>
<line x1="638.4" y1="305.8" x2="641.7" y2="305.8" stroke="#555555" stroke-width="1"/>
<text x="646.4" y="309.0" font-size="8.9" fill="#231f20">0</text>
<line x1="638.4" y1="325.8" x2="641.7" y2="325.8" stroke="#555555" stroke-width="1"/>
<text x="645.4" y="328.9" font-size="8.9" fill="#231f20">−0.25</text>
<line x1="638.4" y1="345.7" x2="641.7" y2="345.7" stroke="#555555" stroke-width="1"/>
<text x="645.4" y="348.9" font-size="8.9" fill="#231f20">−0.50</text>
<line x1="638.4" y1="365.7" x2="641.7" y2="365.7" stroke="#555555" stroke-width="1"/>
<text x="645.4" y="368.9" font-size="8.9" fill="#231f20">−0.75</text>
<line x1="638.4" y1="385.6" x2="641.7" y2="385.6" stroke="#555555" stroke-width="1"/>
<text x="645.4" y="388.8" font-size="8.9" fill="#231f20">−1.00</text>
<text transform="translate(676 306.5) rotate(90)" font-size="11" text-anchor="middle" fill="#231f20">Correlation</text>
</svg></body></html>
